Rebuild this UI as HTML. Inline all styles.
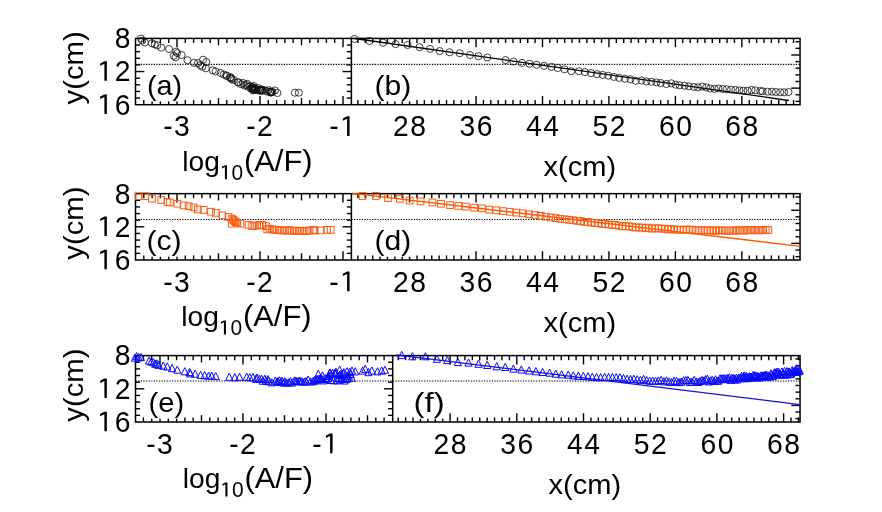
<!DOCTYPE html>
<html><head><meta charset="utf-8"><title>chart</title>
<style>html,body{margin:0;padding:0;background:#fff}svg{display:block}text{font-family:"Liberation Sans",sans-serif;fill:#000}</style></head>
<body>
<svg width="882" height="512" viewBox="0 0 882 512" style="will-change:transform">
<rect width="882" height="512" fill="#fff"/>
<line x1="135.50" y1="64.40" x2="800.05" y2="64.40" stroke="#000" stroke-width="1.1" stroke-dasharray="1.3 1.3"/>
<line x1="135.50" y1="219.55" x2="800.05" y2="219.55" stroke="#000" stroke-width="1.1" stroke-dasharray="1.3 1.3"/>
<line x1="135.50" y1="381.00" x2="800.05" y2="381.00" stroke="#000" stroke-width="1.1" stroke-dasharray="1.3 1.3"/>
<rect x="135.50" y="38.40" width="664.55" height="66.30" fill="none" stroke="#000" stroke-width="1.5"/>
<line x1="351.40" y1="38.40" x2="351.40" y2="104.70" stroke="#000" stroke-width="1.5" />
<line x1="135.50" y1="45.03" x2="140.10" y2="45.03" stroke="#000" stroke-width="1.4" />
<line x1="135.50" y1="51.66" x2="140.10" y2="51.66" stroke="#000" stroke-width="1.4" />
<line x1="135.50" y1="58.29" x2="140.10" y2="58.29" stroke="#000" stroke-width="1.4" />
<line x1="135.50" y1="64.92" x2="140.10" y2="64.92" stroke="#000" stroke-width="1.4" />
<line x1="135.50" y1="71.55" x2="144.30" y2="71.55" stroke="#000" stroke-width="1.4" />
<line x1="135.50" y1="78.18" x2="140.10" y2="78.18" stroke="#000" stroke-width="1.4" />
<line x1="135.50" y1="84.81" x2="140.10" y2="84.81" stroke="#000" stroke-width="1.4" />
<line x1="135.50" y1="91.44" x2="140.10" y2="91.44" stroke="#000" stroke-width="1.4" />
<line x1="135.50" y1="98.07" x2="140.10" y2="98.07" stroke="#000" stroke-width="1.4" />
<line x1="351.40" y1="45.03" x2="346.80" y2="45.03" stroke="#000" stroke-width="1.4" />
<line x1="351.40" y1="51.66" x2="346.80" y2="51.66" stroke="#000" stroke-width="1.4" />
<line x1="351.40" y1="58.29" x2="346.80" y2="58.29" stroke="#000" stroke-width="1.4" />
<line x1="351.40" y1="64.92" x2="346.80" y2="64.92" stroke="#000" stroke-width="1.4" />
<line x1="351.40" y1="71.55" x2="342.60" y2="71.55" stroke="#000" stroke-width="1.4" />
<line x1="351.40" y1="78.18" x2="346.80" y2="78.18" stroke="#000" stroke-width="1.4" />
<line x1="351.40" y1="84.81" x2="346.80" y2="84.81" stroke="#000" stroke-width="1.4" />
<line x1="351.40" y1="91.44" x2="346.80" y2="91.44" stroke="#000" stroke-width="1.4" />
<line x1="351.40" y1="98.07" x2="346.80" y2="98.07" stroke="#000" stroke-width="1.4" />
<line x1="800.05" y1="41.71" x2="795.45" y2="41.71" stroke="#000" stroke-width="1.4" />
<line x1="800.05" y1="48.34" x2="795.45" y2="48.34" stroke="#000" stroke-width="1.4" />
<line x1="800.05" y1="54.98" x2="791.25" y2="54.98" stroke="#000" stroke-width="1.4" />
<line x1="800.05" y1="61.61" x2="795.45" y2="61.61" stroke="#000" stroke-width="1.4" />
<line x1="800.05" y1="68.23" x2="795.45" y2="68.23" stroke="#000" stroke-width="1.4" />
<line x1="800.05" y1="74.87" x2="795.45" y2="74.87" stroke="#000" stroke-width="1.4" />
<line x1="800.05" y1="81.50" x2="795.45" y2="81.50" stroke="#000" stroke-width="1.4" />
<line x1="800.05" y1="88.12" x2="791.25" y2="88.12" stroke="#000" stroke-width="1.4" />
<line x1="800.05" y1="94.75" x2="795.45" y2="94.75" stroke="#000" stroke-width="1.4" />
<line x1="800.05" y1="101.39" x2="795.45" y2="101.39" stroke="#000" stroke-width="1.4" />
<line x1="143.80" y1="38.40" x2="143.80" y2="43.00" stroke="#000" stroke-width="1.4" />
<line x1="143.80" y1="104.70" x2="143.80" y2="100.10" stroke="#000" stroke-width="1.4" />
<line x1="152.10" y1="38.40" x2="152.10" y2="43.00" stroke="#000" stroke-width="1.4" />
<line x1="152.10" y1="104.70" x2="152.10" y2="100.10" stroke="#000" stroke-width="1.4" />
<line x1="160.40" y1="38.40" x2="160.40" y2="43.00" stroke="#000" stroke-width="1.4" />
<line x1="160.40" y1="104.70" x2="160.40" y2="100.10" stroke="#000" stroke-width="1.4" />
<line x1="168.70" y1="38.40" x2="168.70" y2="43.00" stroke="#000" stroke-width="1.4" />
<line x1="168.70" y1="104.70" x2="168.70" y2="100.10" stroke="#000" stroke-width="1.4" />
<line x1="177.00" y1="38.40" x2="177.00" y2="47.20" stroke="#000" stroke-width="1.4" />
<line x1="177.00" y1="104.70" x2="177.00" y2="95.90" stroke="#000" stroke-width="1.4" />
<line x1="185.30" y1="38.40" x2="185.30" y2="43.00" stroke="#000" stroke-width="1.4" />
<line x1="185.30" y1="104.70" x2="185.30" y2="100.10" stroke="#000" stroke-width="1.4" />
<line x1="193.60" y1="38.40" x2="193.60" y2="43.00" stroke="#000" stroke-width="1.4" />
<line x1="193.60" y1="104.70" x2="193.60" y2="100.10" stroke="#000" stroke-width="1.4" />
<line x1="201.90" y1="38.40" x2="201.90" y2="43.00" stroke="#000" stroke-width="1.4" />
<line x1="201.90" y1="104.70" x2="201.90" y2="100.10" stroke="#000" stroke-width="1.4" />
<line x1="210.20" y1="38.40" x2="210.20" y2="43.00" stroke="#000" stroke-width="1.4" />
<line x1="210.20" y1="104.70" x2="210.20" y2="100.10" stroke="#000" stroke-width="1.4" />
<line x1="218.50" y1="38.40" x2="218.50" y2="45.20" stroke="#000" stroke-width="1.4" />
<line x1="218.50" y1="104.70" x2="218.50" y2="97.90" stroke="#000" stroke-width="1.4" />
<line x1="226.80" y1="38.40" x2="226.80" y2="43.00" stroke="#000" stroke-width="1.4" />
<line x1="226.80" y1="104.70" x2="226.80" y2="100.10" stroke="#000" stroke-width="1.4" />
<line x1="235.10" y1="38.40" x2="235.10" y2="43.00" stroke="#000" stroke-width="1.4" />
<line x1="235.10" y1="104.70" x2="235.10" y2="100.10" stroke="#000" stroke-width="1.4" />
<line x1="243.40" y1="38.40" x2="243.40" y2="43.00" stroke="#000" stroke-width="1.4" />
<line x1="243.40" y1="104.70" x2="243.40" y2="100.10" stroke="#000" stroke-width="1.4" />
<line x1="251.70" y1="38.40" x2="251.70" y2="43.00" stroke="#000" stroke-width="1.4" />
<line x1="251.70" y1="104.70" x2="251.70" y2="100.10" stroke="#000" stroke-width="1.4" />
<line x1="260.00" y1="38.40" x2="260.00" y2="47.20" stroke="#000" stroke-width="1.4" />
<line x1="260.00" y1="104.70" x2="260.00" y2="95.90" stroke="#000" stroke-width="1.4" />
<line x1="268.30" y1="38.40" x2="268.30" y2="43.00" stroke="#000" stroke-width="1.4" />
<line x1="268.30" y1="104.70" x2="268.30" y2="100.10" stroke="#000" stroke-width="1.4" />
<line x1="276.60" y1="38.40" x2="276.60" y2="43.00" stroke="#000" stroke-width="1.4" />
<line x1="276.60" y1="104.70" x2="276.60" y2="100.10" stroke="#000" stroke-width="1.4" />
<line x1="284.90" y1="38.40" x2="284.90" y2="43.00" stroke="#000" stroke-width="1.4" />
<line x1="284.90" y1="104.70" x2="284.90" y2="100.10" stroke="#000" stroke-width="1.4" />
<line x1="293.20" y1="38.40" x2="293.20" y2="43.00" stroke="#000" stroke-width="1.4" />
<line x1="293.20" y1="104.70" x2="293.20" y2="100.10" stroke="#000" stroke-width="1.4" />
<line x1="301.50" y1="38.40" x2="301.50" y2="45.20" stroke="#000" stroke-width="1.4" />
<line x1="301.50" y1="104.70" x2="301.50" y2="97.90" stroke="#000" stroke-width="1.4" />
<line x1="309.80" y1="38.40" x2="309.80" y2="43.00" stroke="#000" stroke-width="1.4" />
<line x1="309.80" y1="104.70" x2="309.80" y2="100.10" stroke="#000" stroke-width="1.4" />
<line x1="318.10" y1="38.40" x2="318.10" y2="43.00" stroke="#000" stroke-width="1.4" />
<line x1="318.10" y1="104.70" x2="318.10" y2="100.10" stroke="#000" stroke-width="1.4" />
<line x1="326.40" y1="38.40" x2="326.40" y2="43.00" stroke="#000" stroke-width="1.4" />
<line x1="326.40" y1="104.70" x2="326.40" y2="100.10" stroke="#000" stroke-width="1.4" />
<line x1="334.70" y1="38.40" x2="334.70" y2="43.00" stroke="#000" stroke-width="1.4" />
<line x1="334.70" y1="104.70" x2="334.70" y2="100.10" stroke="#000" stroke-width="1.4" />
<line x1="343.00" y1="38.40" x2="343.00" y2="47.20" stroke="#000" stroke-width="1.4" />
<line x1="343.00" y1="104.70" x2="343.00" y2="95.90" stroke="#000" stroke-width="1.4" />
<line x1="357.92" y1="38.40" x2="357.92" y2="43.00" stroke="#000" stroke-width="1.4" />
<line x1="357.92" y1="104.70" x2="357.92" y2="100.10" stroke="#000" stroke-width="1.4" />
<line x1="365.30" y1="38.40" x2="365.30" y2="43.00" stroke="#000" stroke-width="1.4" />
<line x1="365.30" y1="104.70" x2="365.30" y2="100.10" stroke="#000" stroke-width="1.4" />
<line x1="372.68" y1="38.40" x2="372.68" y2="43.00" stroke="#000" stroke-width="1.4" />
<line x1="372.68" y1="104.70" x2="372.68" y2="100.10" stroke="#000" stroke-width="1.4" />
<line x1="380.07" y1="38.40" x2="380.07" y2="43.00" stroke="#000" stroke-width="1.4" />
<line x1="380.07" y1="104.70" x2="380.07" y2="100.10" stroke="#000" stroke-width="1.4" />
<line x1="387.45" y1="38.40" x2="387.45" y2="43.00" stroke="#000" stroke-width="1.4" />
<line x1="387.45" y1="104.70" x2="387.45" y2="100.10" stroke="#000" stroke-width="1.4" />
<line x1="394.83" y1="38.40" x2="394.83" y2="43.00" stroke="#000" stroke-width="1.4" />
<line x1="394.83" y1="104.70" x2="394.83" y2="100.10" stroke="#000" stroke-width="1.4" />
<line x1="402.22" y1="38.40" x2="402.22" y2="43.00" stroke="#000" stroke-width="1.4" />
<line x1="402.22" y1="104.70" x2="402.22" y2="100.10" stroke="#000" stroke-width="1.4" />
<line x1="409.60" y1="38.40" x2="409.60" y2="47.20" stroke="#000" stroke-width="1.4" />
<line x1="409.60" y1="104.70" x2="409.60" y2="95.90" stroke="#000" stroke-width="1.4" />
<line x1="416.98" y1="38.40" x2="416.98" y2="43.00" stroke="#000" stroke-width="1.4" />
<line x1="416.98" y1="104.70" x2="416.98" y2="100.10" stroke="#000" stroke-width="1.4" />
<line x1="424.37" y1="38.40" x2="424.37" y2="43.00" stroke="#000" stroke-width="1.4" />
<line x1="424.37" y1="104.70" x2="424.37" y2="100.10" stroke="#000" stroke-width="1.4" />
<line x1="431.75" y1="38.40" x2="431.75" y2="43.00" stroke="#000" stroke-width="1.4" />
<line x1="431.75" y1="104.70" x2="431.75" y2="100.10" stroke="#000" stroke-width="1.4" />
<line x1="439.13" y1="38.40" x2="439.13" y2="43.00" stroke="#000" stroke-width="1.4" />
<line x1="439.13" y1="104.70" x2="439.13" y2="100.10" stroke="#000" stroke-width="1.4" />
<line x1="446.52" y1="38.40" x2="446.52" y2="43.00" stroke="#000" stroke-width="1.4" />
<line x1="446.52" y1="104.70" x2="446.52" y2="100.10" stroke="#000" stroke-width="1.4" />
<line x1="453.90" y1="38.40" x2="453.90" y2="43.00" stroke="#000" stroke-width="1.4" />
<line x1="453.90" y1="104.70" x2="453.90" y2="100.10" stroke="#000" stroke-width="1.4" />
<line x1="461.28" y1="38.40" x2="461.28" y2="43.00" stroke="#000" stroke-width="1.4" />
<line x1="461.28" y1="104.70" x2="461.28" y2="100.10" stroke="#000" stroke-width="1.4" />
<line x1="468.67" y1="38.40" x2="468.67" y2="43.00" stroke="#000" stroke-width="1.4" />
<line x1="468.67" y1="104.70" x2="468.67" y2="100.10" stroke="#000" stroke-width="1.4" />
<line x1="476.05" y1="38.40" x2="476.05" y2="47.20" stroke="#000" stroke-width="1.4" />
<line x1="476.05" y1="104.70" x2="476.05" y2="95.90" stroke="#000" stroke-width="1.4" />
<line x1="483.43" y1="38.40" x2="483.43" y2="43.00" stroke="#000" stroke-width="1.4" />
<line x1="483.43" y1="104.70" x2="483.43" y2="100.10" stroke="#000" stroke-width="1.4" />
<line x1="490.82" y1="38.40" x2="490.82" y2="43.00" stroke="#000" stroke-width="1.4" />
<line x1="490.82" y1="104.70" x2="490.82" y2="100.10" stroke="#000" stroke-width="1.4" />
<line x1="498.20" y1="38.40" x2="498.20" y2="43.00" stroke="#000" stroke-width="1.4" />
<line x1="498.20" y1="104.70" x2="498.20" y2="100.10" stroke="#000" stroke-width="1.4" />
<line x1="505.58" y1="38.40" x2="505.58" y2="43.00" stroke="#000" stroke-width="1.4" />
<line x1="505.58" y1="104.70" x2="505.58" y2="100.10" stroke="#000" stroke-width="1.4" />
<line x1="512.97" y1="38.40" x2="512.97" y2="43.00" stroke="#000" stroke-width="1.4" />
<line x1="512.97" y1="104.70" x2="512.97" y2="100.10" stroke="#000" stroke-width="1.4" />
<line x1="520.35" y1="38.40" x2="520.35" y2="43.00" stroke="#000" stroke-width="1.4" />
<line x1="520.35" y1="104.70" x2="520.35" y2="100.10" stroke="#000" stroke-width="1.4" />
<line x1="527.73" y1="38.40" x2="527.73" y2="43.00" stroke="#000" stroke-width="1.4" />
<line x1="527.73" y1="104.70" x2="527.73" y2="100.10" stroke="#000" stroke-width="1.4" />
<line x1="535.12" y1="38.40" x2="535.12" y2="43.00" stroke="#000" stroke-width="1.4" />
<line x1="535.12" y1="104.70" x2="535.12" y2="100.10" stroke="#000" stroke-width="1.4" />
<line x1="542.50" y1="38.40" x2="542.50" y2="47.20" stroke="#000" stroke-width="1.4" />
<line x1="542.50" y1="104.70" x2="542.50" y2="95.90" stroke="#000" stroke-width="1.4" />
<line x1="549.88" y1="38.40" x2="549.88" y2="43.00" stroke="#000" stroke-width="1.4" />
<line x1="549.88" y1="104.70" x2="549.88" y2="100.10" stroke="#000" stroke-width="1.4" />
<line x1="557.27" y1="38.40" x2="557.27" y2="43.00" stroke="#000" stroke-width="1.4" />
<line x1="557.27" y1="104.70" x2="557.27" y2="100.10" stroke="#000" stroke-width="1.4" />
<line x1="564.65" y1="38.40" x2="564.65" y2="43.00" stroke="#000" stroke-width="1.4" />
<line x1="564.65" y1="104.70" x2="564.65" y2="100.10" stroke="#000" stroke-width="1.4" />
<line x1="572.03" y1="38.40" x2="572.03" y2="43.00" stroke="#000" stroke-width="1.4" />
<line x1="572.03" y1="104.70" x2="572.03" y2="100.10" stroke="#000" stroke-width="1.4" />
<line x1="579.42" y1="38.40" x2="579.42" y2="43.00" stroke="#000" stroke-width="1.4" />
<line x1="579.42" y1="104.70" x2="579.42" y2="100.10" stroke="#000" stroke-width="1.4" />
<line x1="586.80" y1="38.40" x2="586.80" y2="43.00" stroke="#000" stroke-width="1.4" />
<line x1="586.80" y1="104.70" x2="586.80" y2="100.10" stroke="#000" stroke-width="1.4" />
<line x1="594.18" y1="38.40" x2="594.18" y2="43.00" stroke="#000" stroke-width="1.4" />
<line x1="594.18" y1="104.70" x2="594.18" y2="100.10" stroke="#000" stroke-width="1.4" />
<line x1="601.57" y1="38.40" x2="601.57" y2="43.00" stroke="#000" stroke-width="1.4" />
<line x1="601.57" y1="104.70" x2="601.57" y2="100.10" stroke="#000" stroke-width="1.4" />
<line x1="608.95" y1="38.40" x2="608.95" y2="47.20" stroke="#000" stroke-width="1.4" />
<line x1="608.95" y1="104.70" x2="608.95" y2="95.90" stroke="#000" stroke-width="1.4" />
<line x1="616.33" y1="38.40" x2="616.33" y2="43.00" stroke="#000" stroke-width="1.4" />
<line x1="616.33" y1="104.70" x2="616.33" y2="100.10" stroke="#000" stroke-width="1.4" />
<line x1="623.72" y1="38.40" x2="623.72" y2="43.00" stroke="#000" stroke-width="1.4" />
<line x1="623.72" y1="104.70" x2="623.72" y2="100.10" stroke="#000" stroke-width="1.4" />
<line x1="631.10" y1="38.40" x2="631.10" y2="43.00" stroke="#000" stroke-width="1.4" />
<line x1="631.10" y1="104.70" x2="631.10" y2="100.10" stroke="#000" stroke-width="1.4" />
<line x1="638.48" y1="38.40" x2="638.48" y2="43.00" stroke="#000" stroke-width="1.4" />
<line x1="638.48" y1="104.70" x2="638.48" y2="100.10" stroke="#000" stroke-width="1.4" />
<line x1="645.87" y1="38.40" x2="645.87" y2="43.00" stroke="#000" stroke-width="1.4" />
<line x1="645.87" y1="104.70" x2="645.87" y2="100.10" stroke="#000" stroke-width="1.4" />
<line x1="653.25" y1="38.40" x2="653.25" y2="43.00" stroke="#000" stroke-width="1.4" />
<line x1="653.25" y1="104.70" x2="653.25" y2="100.10" stroke="#000" stroke-width="1.4" />
<line x1="660.63" y1="38.40" x2="660.63" y2="43.00" stroke="#000" stroke-width="1.4" />
<line x1="660.63" y1="104.70" x2="660.63" y2="100.10" stroke="#000" stroke-width="1.4" />
<line x1="668.02" y1="38.40" x2="668.02" y2="43.00" stroke="#000" stroke-width="1.4" />
<line x1="668.02" y1="104.70" x2="668.02" y2="100.10" stroke="#000" stroke-width="1.4" />
<line x1="675.40" y1="38.40" x2="675.40" y2="47.20" stroke="#000" stroke-width="1.4" />
<line x1="675.40" y1="104.70" x2="675.40" y2="95.90" stroke="#000" stroke-width="1.4" />
<line x1="682.78" y1="38.40" x2="682.78" y2="43.00" stroke="#000" stroke-width="1.4" />
<line x1="682.78" y1="104.70" x2="682.78" y2="100.10" stroke="#000" stroke-width="1.4" />
<line x1="690.17" y1="38.40" x2="690.17" y2="43.00" stroke="#000" stroke-width="1.4" />
<line x1="690.17" y1="104.70" x2="690.17" y2="100.10" stroke="#000" stroke-width="1.4" />
<line x1="697.55" y1="38.40" x2="697.55" y2="43.00" stroke="#000" stroke-width="1.4" />
<line x1="697.55" y1="104.70" x2="697.55" y2="100.10" stroke="#000" stroke-width="1.4" />
<line x1="704.93" y1="38.40" x2="704.93" y2="43.00" stroke="#000" stroke-width="1.4" />
<line x1="704.93" y1="104.70" x2="704.93" y2="100.10" stroke="#000" stroke-width="1.4" />
<line x1="712.32" y1="38.40" x2="712.32" y2="43.00" stroke="#000" stroke-width="1.4" />
<line x1="712.32" y1="104.70" x2="712.32" y2="100.10" stroke="#000" stroke-width="1.4" />
<line x1="719.70" y1="38.40" x2="719.70" y2="43.00" stroke="#000" stroke-width="1.4" />
<line x1="719.70" y1="104.70" x2="719.70" y2="100.10" stroke="#000" stroke-width="1.4" />
<line x1="727.08" y1="38.40" x2="727.08" y2="43.00" stroke="#000" stroke-width="1.4" />
<line x1="727.08" y1="104.70" x2="727.08" y2="100.10" stroke="#000" stroke-width="1.4" />
<line x1="734.47" y1="38.40" x2="734.47" y2="43.00" stroke="#000" stroke-width="1.4" />
<line x1="734.47" y1="104.70" x2="734.47" y2="100.10" stroke="#000" stroke-width="1.4" />
<line x1="741.85" y1="38.40" x2="741.85" y2="47.20" stroke="#000" stroke-width="1.4" />
<line x1="741.85" y1="104.70" x2="741.85" y2="95.90" stroke="#000" stroke-width="1.4" />
<line x1="749.23" y1="38.40" x2="749.23" y2="43.00" stroke="#000" stroke-width="1.4" />
<line x1="749.23" y1="104.70" x2="749.23" y2="100.10" stroke="#000" stroke-width="1.4" />
<line x1="756.62" y1="38.40" x2="756.62" y2="43.00" stroke="#000" stroke-width="1.4" />
<line x1="756.62" y1="104.70" x2="756.62" y2="100.10" stroke="#000" stroke-width="1.4" />
<line x1="764.00" y1="38.40" x2="764.00" y2="43.00" stroke="#000" stroke-width="1.4" />
<line x1="764.00" y1="104.70" x2="764.00" y2="100.10" stroke="#000" stroke-width="1.4" />
<line x1="771.38" y1="38.40" x2="771.38" y2="43.00" stroke="#000" stroke-width="1.4" />
<line x1="771.38" y1="104.70" x2="771.38" y2="100.10" stroke="#000" stroke-width="1.4" />
<line x1="778.77" y1="38.40" x2="778.77" y2="43.00" stroke="#000" stroke-width="1.4" />
<line x1="778.77" y1="104.70" x2="778.77" y2="100.10" stroke="#000" stroke-width="1.4" />
<line x1="786.15" y1="38.40" x2="786.15" y2="43.00" stroke="#000" stroke-width="1.4" />
<line x1="786.15" y1="104.70" x2="786.15" y2="100.10" stroke="#000" stroke-width="1.4" />
<line x1="793.53" y1="38.40" x2="793.53" y2="43.00" stroke="#000" stroke-width="1.4" />
<line x1="793.53" y1="104.70" x2="793.53" y2="100.10" stroke="#000" stroke-width="1.4" />
<rect x="135.50" y="193.65" width="664.55" height="66.35" fill="none" stroke="#000" stroke-width="1.5"/>
<line x1="351.40" y1="193.65" x2="351.40" y2="260.00" stroke="#000" stroke-width="1.5" />
<line x1="135.50" y1="200.28" x2="140.10" y2="200.28" stroke="#000" stroke-width="1.4" />
<line x1="135.50" y1="206.92" x2="140.10" y2="206.92" stroke="#000" stroke-width="1.4" />
<line x1="135.50" y1="213.56" x2="140.10" y2="213.56" stroke="#000" stroke-width="1.4" />
<line x1="135.50" y1="220.19" x2="140.10" y2="220.19" stroke="#000" stroke-width="1.4" />
<line x1="135.50" y1="226.82" x2="144.30" y2="226.82" stroke="#000" stroke-width="1.4" />
<line x1="135.50" y1="233.46" x2="140.10" y2="233.46" stroke="#000" stroke-width="1.4" />
<line x1="135.50" y1="240.09" x2="140.10" y2="240.09" stroke="#000" stroke-width="1.4" />
<line x1="135.50" y1="246.73" x2="140.10" y2="246.73" stroke="#000" stroke-width="1.4" />
<line x1="135.50" y1="253.37" x2="140.10" y2="253.37" stroke="#000" stroke-width="1.4" />
<line x1="351.40" y1="200.28" x2="346.80" y2="200.28" stroke="#000" stroke-width="1.4" />
<line x1="351.40" y1="206.92" x2="346.80" y2="206.92" stroke="#000" stroke-width="1.4" />
<line x1="351.40" y1="213.56" x2="346.80" y2="213.56" stroke="#000" stroke-width="1.4" />
<line x1="351.40" y1="220.19" x2="346.80" y2="220.19" stroke="#000" stroke-width="1.4" />
<line x1="351.40" y1="226.82" x2="342.60" y2="226.82" stroke="#000" stroke-width="1.4" />
<line x1="351.40" y1="233.46" x2="346.80" y2="233.46" stroke="#000" stroke-width="1.4" />
<line x1="351.40" y1="240.09" x2="346.80" y2="240.09" stroke="#000" stroke-width="1.4" />
<line x1="351.40" y1="246.73" x2="346.80" y2="246.73" stroke="#000" stroke-width="1.4" />
<line x1="351.40" y1="253.37" x2="346.80" y2="253.37" stroke="#000" stroke-width="1.4" />
<line x1="800.05" y1="196.97" x2="795.45" y2="196.97" stroke="#000" stroke-width="1.4" />
<line x1="800.05" y1="203.60" x2="795.45" y2="203.60" stroke="#000" stroke-width="1.4" />
<line x1="800.05" y1="210.24" x2="791.25" y2="210.24" stroke="#000" stroke-width="1.4" />
<line x1="800.05" y1="216.87" x2="795.45" y2="216.87" stroke="#000" stroke-width="1.4" />
<line x1="800.05" y1="223.51" x2="795.45" y2="223.51" stroke="#000" stroke-width="1.4" />
<line x1="800.05" y1="230.14" x2="795.45" y2="230.14" stroke="#000" stroke-width="1.4" />
<line x1="800.05" y1="236.78" x2="795.45" y2="236.78" stroke="#000" stroke-width="1.4" />
<line x1="800.05" y1="243.41" x2="791.25" y2="243.41" stroke="#000" stroke-width="1.4" />
<line x1="800.05" y1="250.05" x2="795.45" y2="250.05" stroke="#000" stroke-width="1.4" />
<line x1="800.05" y1="256.68" x2="795.45" y2="256.68" stroke="#000" stroke-width="1.4" />
<line x1="143.80" y1="193.65" x2="143.80" y2="198.25" stroke="#000" stroke-width="1.4" />
<line x1="143.80" y1="260.00" x2="143.80" y2="255.40" stroke="#000" stroke-width="1.4" />
<line x1="152.10" y1="193.65" x2="152.10" y2="198.25" stroke="#000" stroke-width="1.4" />
<line x1="152.10" y1="260.00" x2="152.10" y2="255.40" stroke="#000" stroke-width="1.4" />
<line x1="160.40" y1="193.65" x2="160.40" y2="198.25" stroke="#000" stroke-width="1.4" />
<line x1="160.40" y1="260.00" x2="160.40" y2="255.40" stroke="#000" stroke-width="1.4" />
<line x1="168.70" y1="193.65" x2="168.70" y2="198.25" stroke="#000" stroke-width="1.4" />
<line x1="168.70" y1="260.00" x2="168.70" y2="255.40" stroke="#000" stroke-width="1.4" />
<line x1="177.00" y1="193.65" x2="177.00" y2="202.45" stroke="#000" stroke-width="1.4" />
<line x1="177.00" y1="260.00" x2="177.00" y2="251.20" stroke="#000" stroke-width="1.4" />
<line x1="185.30" y1="193.65" x2="185.30" y2="198.25" stroke="#000" stroke-width="1.4" />
<line x1="185.30" y1="260.00" x2="185.30" y2="255.40" stroke="#000" stroke-width="1.4" />
<line x1="193.60" y1="193.65" x2="193.60" y2="198.25" stroke="#000" stroke-width="1.4" />
<line x1="193.60" y1="260.00" x2="193.60" y2="255.40" stroke="#000" stroke-width="1.4" />
<line x1="201.90" y1="193.65" x2="201.90" y2="198.25" stroke="#000" stroke-width="1.4" />
<line x1="201.90" y1="260.00" x2="201.90" y2="255.40" stroke="#000" stroke-width="1.4" />
<line x1="210.20" y1="193.65" x2="210.20" y2="198.25" stroke="#000" stroke-width="1.4" />
<line x1="210.20" y1="260.00" x2="210.20" y2="255.40" stroke="#000" stroke-width="1.4" />
<line x1="218.50" y1="193.65" x2="218.50" y2="200.45" stroke="#000" stroke-width="1.4" />
<line x1="218.50" y1="260.00" x2="218.50" y2="253.20" stroke="#000" stroke-width="1.4" />
<line x1="226.80" y1="193.65" x2="226.80" y2="198.25" stroke="#000" stroke-width="1.4" />
<line x1="226.80" y1="260.00" x2="226.80" y2="255.40" stroke="#000" stroke-width="1.4" />
<line x1="235.10" y1="193.65" x2="235.10" y2="198.25" stroke="#000" stroke-width="1.4" />
<line x1="235.10" y1="260.00" x2="235.10" y2="255.40" stroke="#000" stroke-width="1.4" />
<line x1="243.40" y1="193.65" x2="243.40" y2="198.25" stroke="#000" stroke-width="1.4" />
<line x1="243.40" y1="260.00" x2="243.40" y2="255.40" stroke="#000" stroke-width="1.4" />
<line x1="251.70" y1="193.65" x2="251.70" y2="198.25" stroke="#000" stroke-width="1.4" />
<line x1="251.70" y1="260.00" x2="251.70" y2="255.40" stroke="#000" stroke-width="1.4" />
<line x1="260.00" y1="193.65" x2="260.00" y2="202.45" stroke="#000" stroke-width="1.4" />
<line x1="260.00" y1="260.00" x2="260.00" y2="251.20" stroke="#000" stroke-width="1.4" />
<line x1="268.30" y1="193.65" x2="268.30" y2="198.25" stroke="#000" stroke-width="1.4" />
<line x1="268.30" y1="260.00" x2="268.30" y2="255.40" stroke="#000" stroke-width="1.4" />
<line x1="276.60" y1="193.65" x2="276.60" y2="198.25" stroke="#000" stroke-width="1.4" />
<line x1="276.60" y1="260.00" x2="276.60" y2="255.40" stroke="#000" stroke-width="1.4" />
<line x1="284.90" y1="193.65" x2="284.90" y2="198.25" stroke="#000" stroke-width="1.4" />
<line x1="284.90" y1="260.00" x2="284.90" y2="255.40" stroke="#000" stroke-width="1.4" />
<line x1="293.20" y1="193.65" x2="293.20" y2="198.25" stroke="#000" stroke-width="1.4" />
<line x1="293.20" y1="260.00" x2="293.20" y2="255.40" stroke="#000" stroke-width="1.4" />
<line x1="301.50" y1="193.65" x2="301.50" y2="200.45" stroke="#000" stroke-width="1.4" />
<line x1="301.50" y1="260.00" x2="301.50" y2="253.20" stroke="#000" stroke-width="1.4" />
<line x1="309.80" y1="193.65" x2="309.80" y2="198.25" stroke="#000" stroke-width="1.4" />
<line x1="309.80" y1="260.00" x2="309.80" y2="255.40" stroke="#000" stroke-width="1.4" />
<line x1="318.10" y1="193.65" x2="318.10" y2="198.25" stroke="#000" stroke-width="1.4" />
<line x1="318.10" y1="260.00" x2="318.10" y2="255.40" stroke="#000" stroke-width="1.4" />
<line x1="326.40" y1="193.65" x2="326.40" y2="198.25" stroke="#000" stroke-width="1.4" />
<line x1="326.40" y1="260.00" x2="326.40" y2="255.40" stroke="#000" stroke-width="1.4" />
<line x1="334.70" y1="193.65" x2="334.70" y2="198.25" stroke="#000" stroke-width="1.4" />
<line x1="334.70" y1="260.00" x2="334.70" y2="255.40" stroke="#000" stroke-width="1.4" />
<line x1="343.00" y1="193.65" x2="343.00" y2="202.45" stroke="#000" stroke-width="1.4" />
<line x1="343.00" y1="260.00" x2="343.00" y2="251.20" stroke="#000" stroke-width="1.4" />
<line x1="357.92" y1="193.65" x2="357.92" y2="198.25" stroke="#000" stroke-width="1.4" />
<line x1="357.92" y1="260.00" x2="357.92" y2="255.40" stroke="#000" stroke-width="1.4" />
<line x1="365.30" y1="193.65" x2="365.30" y2="198.25" stroke="#000" stroke-width="1.4" />
<line x1="365.30" y1="260.00" x2="365.30" y2="255.40" stroke="#000" stroke-width="1.4" />
<line x1="372.68" y1="193.65" x2="372.68" y2="198.25" stroke="#000" stroke-width="1.4" />
<line x1="372.68" y1="260.00" x2="372.68" y2="255.40" stroke="#000" stroke-width="1.4" />
<line x1="380.07" y1="193.65" x2="380.07" y2="198.25" stroke="#000" stroke-width="1.4" />
<line x1="380.07" y1="260.00" x2="380.07" y2="255.40" stroke="#000" stroke-width="1.4" />
<line x1="387.45" y1="193.65" x2="387.45" y2="198.25" stroke="#000" stroke-width="1.4" />
<line x1="387.45" y1="260.00" x2="387.45" y2="255.40" stroke="#000" stroke-width="1.4" />
<line x1="394.83" y1="193.65" x2="394.83" y2="198.25" stroke="#000" stroke-width="1.4" />
<line x1="394.83" y1="260.00" x2="394.83" y2="255.40" stroke="#000" stroke-width="1.4" />
<line x1="402.22" y1="193.65" x2="402.22" y2="198.25" stroke="#000" stroke-width="1.4" />
<line x1="402.22" y1="260.00" x2="402.22" y2="255.40" stroke="#000" stroke-width="1.4" />
<line x1="409.60" y1="193.65" x2="409.60" y2="202.45" stroke="#000" stroke-width="1.4" />
<line x1="409.60" y1="260.00" x2="409.60" y2="251.20" stroke="#000" stroke-width="1.4" />
<line x1="416.98" y1="193.65" x2="416.98" y2="198.25" stroke="#000" stroke-width="1.4" />
<line x1="416.98" y1="260.00" x2="416.98" y2="255.40" stroke="#000" stroke-width="1.4" />
<line x1="424.37" y1="193.65" x2="424.37" y2="198.25" stroke="#000" stroke-width="1.4" />
<line x1="424.37" y1="260.00" x2="424.37" y2="255.40" stroke="#000" stroke-width="1.4" />
<line x1="431.75" y1="193.65" x2="431.75" y2="198.25" stroke="#000" stroke-width="1.4" />
<line x1="431.75" y1="260.00" x2="431.75" y2="255.40" stroke="#000" stroke-width="1.4" />
<line x1="439.13" y1="193.65" x2="439.13" y2="198.25" stroke="#000" stroke-width="1.4" />
<line x1="439.13" y1="260.00" x2="439.13" y2="255.40" stroke="#000" stroke-width="1.4" />
<line x1="446.52" y1="193.65" x2="446.52" y2="198.25" stroke="#000" stroke-width="1.4" />
<line x1="446.52" y1="260.00" x2="446.52" y2="255.40" stroke="#000" stroke-width="1.4" />
<line x1="453.90" y1="193.65" x2="453.90" y2="198.25" stroke="#000" stroke-width="1.4" />
<line x1="453.90" y1="260.00" x2="453.90" y2="255.40" stroke="#000" stroke-width="1.4" />
<line x1="461.28" y1="193.65" x2="461.28" y2="198.25" stroke="#000" stroke-width="1.4" />
<line x1="461.28" y1="260.00" x2="461.28" y2="255.40" stroke="#000" stroke-width="1.4" />
<line x1="468.67" y1="193.65" x2="468.67" y2="198.25" stroke="#000" stroke-width="1.4" />
<line x1="468.67" y1="260.00" x2="468.67" y2="255.40" stroke="#000" stroke-width="1.4" />
<line x1="476.05" y1="193.65" x2="476.05" y2="202.45" stroke="#000" stroke-width="1.4" />
<line x1="476.05" y1="260.00" x2="476.05" y2="251.20" stroke="#000" stroke-width="1.4" />
<line x1="483.43" y1="193.65" x2="483.43" y2="198.25" stroke="#000" stroke-width="1.4" />
<line x1="483.43" y1="260.00" x2="483.43" y2="255.40" stroke="#000" stroke-width="1.4" />
<line x1="490.82" y1="193.65" x2="490.82" y2="198.25" stroke="#000" stroke-width="1.4" />
<line x1="490.82" y1="260.00" x2="490.82" y2="255.40" stroke="#000" stroke-width="1.4" />
<line x1="498.20" y1="193.65" x2="498.20" y2="198.25" stroke="#000" stroke-width="1.4" />
<line x1="498.20" y1="260.00" x2="498.20" y2="255.40" stroke="#000" stroke-width="1.4" />
<line x1="505.58" y1="193.65" x2="505.58" y2="198.25" stroke="#000" stroke-width="1.4" />
<line x1="505.58" y1="260.00" x2="505.58" y2="255.40" stroke="#000" stroke-width="1.4" />
<line x1="512.97" y1="193.65" x2="512.97" y2="198.25" stroke="#000" stroke-width="1.4" />
<line x1="512.97" y1="260.00" x2="512.97" y2="255.40" stroke="#000" stroke-width="1.4" />
<line x1="520.35" y1="193.65" x2="520.35" y2="198.25" stroke="#000" stroke-width="1.4" />
<line x1="520.35" y1="260.00" x2="520.35" y2="255.40" stroke="#000" stroke-width="1.4" />
<line x1="527.73" y1="193.65" x2="527.73" y2="198.25" stroke="#000" stroke-width="1.4" />
<line x1="527.73" y1="260.00" x2="527.73" y2="255.40" stroke="#000" stroke-width="1.4" />
<line x1="535.12" y1="193.65" x2="535.12" y2="198.25" stroke="#000" stroke-width="1.4" />
<line x1="535.12" y1="260.00" x2="535.12" y2="255.40" stroke="#000" stroke-width="1.4" />
<line x1="542.50" y1="193.65" x2="542.50" y2="202.45" stroke="#000" stroke-width="1.4" />
<line x1="542.50" y1="260.00" x2="542.50" y2="251.20" stroke="#000" stroke-width="1.4" />
<line x1="549.88" y1="193.65" x2="549.88" y2="198.25" stroke="#000" stroke-width="1.4" />
<line x1="549.88" y1="260.00" x2="549.88" y2="255.40" stroke="#000" stroke-width="1.4" />
<line x1="557.27" y1="193.65" x2="557.27" y2="198.25" stroke="#000" stroke-width="1.4" />
<line x1="557.27" y1="260.00" x2="557.27" y2="255.40" stroke="#000" stroke-width="1.4" />
<line x1="564.65" y1="193.65" x2="564.65" y2="198.25" stroke="#000" stroke-width="1.4" />
<line x1="564.65" y1="260.00" x2="564.65" y2="255.40" stroke="#000" stroke-width="1.4" />
<line x1="572.03" y1="193.65" x2="572.03" y2="198.25" stroke="#000" stroke-width="1.4" />
<line x1="572.03" y1="260.00" x2="572.03" y2="255.40" stroke="#000" stroke-width="1.4" />
<line x1="579.42" y1="193.65" x2="579.42" y2="198.25" stroke="#000" stroke-width="1.4" />
<line x1="579.42" y1="260.00" x2="579.42" y2="255.40" stroke="#000" stroke-width="1.4" />
<line x1="586.80" y1="193.65" x2="586.80" y2="198.25" stroke="#000" stroke-width="1.4" />
<line x1="586.80" y1="260.00" x2="586.80" y2="255.40" stroke="#000" stroke-width="1.4" />
<line x1="594.18" y1="193.65" x2="594.18" y2="198.25" stroke="#000" stroke-width="1.4" />
<line x1="594.18" y1="260.00" x2="594.18" y2="255.40" stroke="#000" stroke-width="1.4" />
<line x1="601.57" y1="193.65" x2="601.57" y2="198.25" stroke="#000" stroke-width="1.4" />
<line x1="601.57" y1="260.00" x2="601.57" y2="255.40" stroke="#000" stroke-width="1.4" />
<line x1="608.95" y1="193.65" x2="608.95" y2="202.45" stroke="#000" stroke-width="1.4" />
<line x1="608.95" y1="260.00" x2="608.95" y2="251.20" stroke="#000" stroke-width="1.4" />
<line x1="616.33" y1="193.65" x2="616.33" y2="198.25" stroke="#000" stroke-width="1.4" />
<line x1="616.33" y1="260.00" x2="616.33" y2="255.40" stroke="#000" stroke-width="1.4" />
<line x1="623.72" y1="193.65" x2="623.72" y2="198.25" stroke="#000" stroke-width="1.4" />
<line x1="623.72" y1="260.00" x2="623.72" y2="255.40" stroke="#000" stroke-width="1.4" />
<line x1="631.10" y1="193.65" x2="631.10" y2="198.25" stroke="#000" stroke-width="1.4" />
<line x1="631.10" y1="260.00" x2="631.10" y2="255.40" stroke="#000" stroke-width="1.4" />
<line x1="638.48" y1="193.65" x2="638.48" y2="198.25" stroke="#000" stroke-width="1.4" />
<line x1="638.48" y1="260.00" x2="638.48" y2="255.40" stroke="#000" stroke-width="1.4" />
<line x1="645.87" y1="193.65" x2="645.87" y2="198.25" stroke="#000" stroke-width="1.4" />
<line x1="645.87" y1="260.00" x2="645.87" y2="255.40" stroke="#000" stroke-width="1.4" />
<line x1="653.25" y1="193.65" x2="653.25" y2="198.25" stroke="#000" stroke-width="1.4" />
<line x1="653.25" y1="260.00" x2="653.25" y2="255.40" stroke="#000" stroke-width="1.4" />
<line x1="660.63" y1="193.65" x2="660.63" y2="198.25" stroke="#000" stroke-width="1.4" />
<line x1="660.63" y1="260.00" x2="660.63" y2="255.40" stroke="#000" stroke-width="1.4" />
<line x1="668.02" y1="193.65" x2="668.02" y2="198.25" stroke="#000" stroke-width="1.4" />
<line x1="668.02" y1="260.00" x2="668.02" y2="255.40" stroke="#000" stroke-width="1.4" />
<line x1="675.40" y1="193.65" x2="675.40" y2="202.45" stroke="#000" stroke-width="1.4" />
<line x1="675.40" y1="260.00" x2="675.40" y2="251.20" stroke="#000" stroke-width="1.4" />
<line x1="682.78" y1="193.65" x2="682.78" y2="198.25" stroke="#000" stroke-width="1.4" />
<line x1="682.78" y1="260.00" x2="682.78" y2="255.40" stroke="#000" stroke-width="1.4" />
<line x1="690.17" y1="193.65" x2="690.17" y2="198.25" stroke="#000" stroke-width="1.4" />
<line x1="690.17" y1="260.00" x2="690.17" y2="255.40" stroke="#000" stroke-width="1.4" />
<line x1="697.55" y1="193.65" x2="697.55" y2="198.25" stroke="#000" stroke-width="1.4" />
<line x1="697.55" y1="260.00" x2="697.55" y2="255.40" stroke="#000" stroke-width="1.4" />
<line x1="704.93" y1="193.65" x2="704.93" y2="198.25" stroke="#000" stroke-width="1.4" />
<line x1="704.93" y1="260.00" x2="704.93" y2="255.40" stroke="#000" stroke-width="1.4" />
<line x1="712.32" y1="193.65" x2="712.32" y2="198.25" stroke="#000" stroke-width="1.4" />
<line x1="712.32" y1="260.00" x2="712.32" y2="255.40" stroke="#000" stroke-width="1.4" />
<line x1="719.70" y1="193.65" x2="719.70" y2="198.25" stroke="#000" stroke-width="1.4" />
<line x1="719.70" y1="260.00" x2="719.70" y2="255.40" stroke="#000" stroke-width="1.4" />
<line x1="727.08" y1="193.65" x2="727.08" y2="198.25" stroke="#000" stroke-width="1.4" />
<line x1="727.08" y1="260.00" x2="727.08" y2="255.40" stroke="#000" stroke-width="1.4" />
<line x1="734.47" y1="193.65" x2="734.47" y2="198.25" stroke="#000" stroke-width="1.4" />
<line x1="734.47" y1="260.00" x2="734.47" y2="255.40" stroke="#000" stroke-width="1.4" />
<line x1="741.85" y1="193.65" x2="741.85" y2="202.45" stroke="#000" stroke-width="1.4" />
<line x1="741.85" y1="260.00" x2="741.85" y2="251.20" stroke="#000" stroke-width="1.4" />
<line x1="749.23" y1="193.65" x2="749.23" y2="198.25" stroke="#000" stroke-width="1.4" />
<line x1="749.23" y1="260.00" x2="749.23" y2="255.40" stroke="#000" stroke-width="1.4" />
<line x1="756.62" y1="193.65" x2="756.62" y2="198.25" stroke="#000" stroke-width="1.4" />
<line x1="756.62" y1="260.00" x2="756.62" y2="255.40" stroke="#000" stroke-width="1.4" />
<line x1="764.00" y1="193.65" x2="764.00" y2="198.25" stroke="#000" stroke-width="1.4" />
<line x1="764.00" y1="260.00" x2="764.00" y2="255.40" stroke="#000" stroke-width="1.4" />
<line x1="771.38" y1="193.65" x2="771.38" y2="198.25" stroke="#000" stroke-width="1.4" />
<line x1="771.38" y1="260.00" x2="771.38" y2="255.40" stroke="#000" stroke-width="1.4" />
<line x1="778.77" y1="193.65" x2="778.77" y2="198.25" stroke="#000" stroke-width="1.4" />
<line x1="778.77" y1="260.00" x2="778.77" y2="255.40" stroke="#000" stroke-width="1.4" />
<line x1="786.15" y1="193.65" x2="786.15" y2="198.25" stroke="#000" stroke-width="1.4" />
<line x1="786.15" y1="260.00" x2="786.15" y2="255.40" stroke="#000" stroke-width="1.4" />
<line x1="793.53" y1="193.65" x2="793.53" y2="198.25" stroke="#000" stroke-width="1.4" />
<line x1="793.53" y1="260.00" x2="793.53" y2="255.40" stroke="#000" stroke-width="1.4" />
<rect x="135.50" y="355.60" width="664.55" height="66.40" fill="none" stroke="#000" stroke-width="1.5"/>
<line x1="392.70" y1="355.60" x2="392.70" y2="422.00" stroke="#000" stroke-width="1.5" />
<line x1="135.50" y1="362.24" x2="140.10" y2="362.24" stroke="#000" stroke-width="1.4" />
<line x1="135.50" y1="368.88" x2="140.10" y2="368.88" stroke="#000" stroke-width="1.4" />
<line x1="135.50" y1="375.52" x2="140.10" y2="375.52" stroke="#000" stroke-width="1.4" />
<line x1="135.50" y1="382.16" x2="140.10" y2="382.16" stroke="#000" stroke-width="1.4" />
<line x1="135.50" y1="388.80" x2="144.30" y2="388.80" stroke="#000" stroke-width="1.4" />
<line x1="135.50" y1="395.44" x2="140.10" y2="395.44" stroke="#000" stroke-width="1.4" />
<line x1="135.50" y1="402.08" x2="140.10" y2="402.08" stroke="#000" stroke-width="1.4" />
<line x1="135.50" y1="408.72" x2="140.10" y2="408.72" stroke="#000" stroke-width="1.4" />
<line x1="135.50" y1="415.36" x2="140.10" y2="415.36" stroke="#000" stroke-width="1.4" />
<line x1="392.70" y1="362.24" x2="388.10" y2="362.24" stroke="#000" stroke-width="1.4" />
<line x1="392.70" y1="368.88" x2="388.10" y2="368.88" stroke="#000" stroke-width="1.4" />
<line x1="392.70" y1="375.52" x2="388.10" y2="375.52" stroke="#000" stroke-width="1.4" />
<line x1="392.70" y1="382.16" x2="388.10" y2="382.16" stroke="#000" stroke-width="1.4" />
<line x1="392.70" y1="388.80" x2="383.90" y2="388.80" stroke="#000" stroke-width="1.4" />
<line x1="392.70" y1="395.44" x2="388.10" y2="395.44" stroke="#000" stroke-width="1.4" />
<line x1="392.70" y1="402.08" x2="388.10" y2="402.08" stroke="#000" stroke-width="1.4" />
<line x1="392.70" y1="408.72" x2="388.10" y2="408.72" stroke="#000" stroke-width="1.4" />
<line x1="392.70" y1="415.36" x2="388.10" y2="415.36" stroke="#000" stroke-width="1.4" />
<line x1="800.05" y1="358.92" x2="795.45" y2="358.92" stroke="#000" stroke-width="1.4" />
<line x1="800.05" y1="365.56" x2="795.45" y2="365.56" stroke="#000" stroke-width="1.4" />
<line x1="800.05" y1="372.20" x2="791.25" y2="372.20" stroke="#000" stroke-width="1.4" />
<line x1="800.05" y1="378.84" x2="795.45" y2="378.84" stroke="#000" stroke-width="1.4" />
<line x1="800.05" y1="385.48" x2="795.45" y2="385.48" stroke="#000" stroke-width="1.4" />
<line x1="800.05" y1="392.12" x2="795.45" y2="392.12" stroke="#000" stroke-width="1.4" />
<line x1="800.05" y1="398.76" x2="795.45" y2="398.76" stroke="#000" stroke-width="1.4" />
<line x1="800.05" y1="405.40" x2="791.25" y2="405.40" stroke="#000" stroke-width="1.4" />
<line x1="800.05" y1="412.04" x2="795.45" y2="412.04" stroke="#000" stroke-width="1.4" />
<line x1="800.05" y1="418.68" x2="795.45" y2="418.68" stroke="#000" stroke-width="1.4" />
<line x1="143.40" y1="355.60" x2="143.40" y2="360.20" stroke="#000" stroke-width="1.4" />
<line x1="143.40" y1="422.00" x2="143.40" y2="417.40" stroke="#000" stroke-width="1.4" />
<line x1="151.70" y1="355.60" x2="151.70" y2="360.20" stroke="#000" stroke-width="1.4" />
<line x1="151.70" y1="422.00" x2="151.70" y2="417.40" stroke="#000" stroke-width="1.4" />
<line x1="160.00" y1="355.60" x2="160.00" y2="364.40" stroke="#000" stroke-width="1.4" />
<line x1="160.00" y1="422.00" x2="160.00" y2="413.20" stroke="#000" stroke-width="1.4" />
<line x1="168.30" y1="355.60" x2="168.30" y2="360.20" stroke="#000" stroke-width="1.4" />
<line x1="168.30" y1="422.00" x2="168.30" y2="417.40" stroke="#000" stroke-width="1.4" />
<line x1="176.60" y1="355.60" x2="176.60" y2="360.20" stroke="#000" stroke-width="1.4" />
<line x1="176.60" y1="422.00" x2="176.60" y2="417.40" stroke="#000" stroke-width="1.4" />
<line x1="184.90" y1="355.60" x2="184.90" y2="360.20" stroke="#000" stroke-width="1.4" />
<line x1="184.90" y1="422.00" x2="184.90" y2="417.40" stroke="#000" stroke-width="1.4" />
<line x1="193.20" y1="355.60" x2="193.20" y2="360.20" stroke="#000" stroke-width="1.4" />
<line x1="193.20" y1="422.00" x2="193.20" y2="417.40" stroke="#000" stroke-width="1.4" />
<line x1="201.50" y1="355.60" x2="201.50" y2="362.40" stroke="#000" stroke-width="1.4" />
<line x1="201.50" y1="422.00" x2="201.50" y2="415.20" stroke="#000" stroke-width="1.4" />
<line x1="209.80" y1="355.60" x2="209.80" y2="360.20" stroke="#000" stroke-width="1.4" />
<line x1="209.80" y1="422.00" x2="209.80" y2="417.40" stroke="#000" stroke-width="1.4" />
<line x1="218.10" y1="355.60" x2="218.10" y2="360.20" stroke="#000" stroke-width="1.4" />
<line x1="218.10" y1="422.00" x2="218.10" y2="417.40" stroke="#000" stroke-width="1.4" />
<line x1="226.40" y1="355.60" x2="226.40" y2="360.20" stroke="#000" stroke-width="1.4" />
<line x1="226.40" y1="422.00" x2="226.40" y2="417.40" stroke="#000" stroke-width="1.4" />
<line x1="234.70" y1="355.60" x2="234.70" y2="360.20" stroke="#000" stroke-width="1.4" />
<line x1="234.70" y1="422.00" x2="234.70" y2="417.40" stroke="#000" stroke-width="1.4" />
<line x1="243.00" y1="355.60" x2="243.00" y2="364.40" stroke="#000" stroke-width="1.4" />
<line x1="243.00" y1="422.00" x2="243.00" y2="413.20" stroke="#000" stroke-width="1.4" />
<line x1="251.30" y1="355.60" x2="251.30" y2="360.20" stroke="#000" stroke-width="1.4" />
<line x1="251.30" y1="422.00" x2="251.30" y2="417.40" stroke="#000" stroke-width="1.4" />
<line x1="259.60" y1="355.60" x2="259.60" y2="360.20" stroke="#000" stroke-width="1.4" />
<line x1="259.60" y1="422.00" x2="259.60" y2="417.40" stroke="#000" stroke-width="1.4" />
<line x1="267.90" y1="355.60" x2="267.90" y2="360.20" stroke="#000" stroke-width="1.4" />
<line x1="267.90" y1="422.00" x2="267.90" y2="417.40" stroke="#000" stroke-width="1.4" />
<line x1="276.20" y1="355.60" x2="276.20" y2="360.20" stroke="#000" stroke-width="1.4" />
<line x1="276.20" y1="422.00" x2="276.20" y2="417.40" stroke="#000" stroke-width="1.4" />
<line x1="284.50" y1="355.60" x2="284.50" y2="362.40" stroke="#000" stroke-width="1.4" />
<line x1="284.50" y1="422.00" x2="284.50" y2="415.20" stroke="#000" stroke-width="1.4" />
<line x1="292.80" y1="355.60" x2="292.80" y2="360.20" stroke="#000" stroke-width="1.4" />
<line x1="292.80" y1="422.00" x2="292.80" y2="417.40" stroke="#000" stroke-width="1.4" />
<line x1="301.10" y1="355.60" x2="301.10" y2="360.20" stroke="#000" stroke-width="1.4" />
<line x1="301.10" y1="422.00" x2="301.10" y2="417.40" stroke="#000" stroke-width="1.4" />
<line x1="309.40" y1="355.60" x2="309.40" y2="360.20" stroke="#000" stroke-width="1.4" />
<line x1="309.40" y1="422.00" x2="309.40" y2="417.40" stroke="#000" stroke-width="1.4" />
<line x1="317.70" y1="355.60" x2="317.70" y2="360.20" stroke="#000" stroke-width="1.4" />
<line x1="317.70" y1="422.00" x2="317.70" y2="417.40" stroke="#000" stroke-width="1.4" />
<line x1="326.00" y1="355.60" x2="326.00" y2="364.40" stroke="#000" stroke-width="1.4" />
<line x1="326.00" y1="422.00" x2="326.00" y2="413.20" stroke="#000" stroke-width="1.4" />
<line x1="334.30" y1="355.60" x2="334.30" y2="360.20" stroke="#000" stroke-width="1.4" />
<line x1="334.30" y1="422.00" x2="334.30" y2="417.40" stroke="#000" stroke-width="1.4" />
<line x1="342.60" y1="355.60" x2="342.60" y2="360.20" stroke="#000" stroke-width="1.4" />
<line x1="342.60" y1="422.00" x2="342.60" y2="417.40" stroke="#000" stroke-width="1.4" />
<line x1="350.90" y1="355.60" x2="350.90" y2="360.20" stroke="#000" stroke-width="1.4" />
<line x1="350.90" y1="422.00" x2="350.90" y2="417.40" stroke="#000" stroke-width="1.4" />
<line x1="359.20" y1="355.60" x2="359.20" y2="360.20" stroke="#000" stroke-width="1.4" />
<line x1="359.20" y1="422.00" x2="359.20" y2="417.40" stroke="#000" stroke-width="1.4" />
<line x1="367.50" y1="355.60" x2="367.50" y2="362.40" stroke="#000" stroke-width="1.4" />
<line x1="367.50" y1="422.00" x2="367.50" y2="415.20" stroke="#000" stroke-width="1.4" />
<line x1="375.80" y1="355.60" x2="375.80" y2="360.20" stroke="#000" stroke-width="1.4" />
<line x1="375.80" y1="422.00" x2="375.80" y2="417.40" stroke="#000" stroke-width="1.4" />
<line x1="384.10" y1="355.60" x2="384.10" y2="360.20" stroke="#000" stroke-width="1.4" />
<line x1="384.10" y1="422.00" x2="384.10" y2="417.40" stroke="#000" stroke-width="1.4" />
<line x1="398.22" y1="355.60" x2="398.22" y2="360.20" stroke="#000" stroke-width="1.4" />
<line x1="398.22" y1="422.00" x2="398.22" y2="417.40" stroke="#000" stroke-width="1.4" />
<line x1="405.63" y1="355.60" x2="405.63" y2="360.20" stroke="#000" stroke-width="1.4" />
<line x1="405.63" y1="422.00" x2="405.63" y2="417.40" stroke="#000" stroke-width="1.4" />
<line x1="413.04" y1="355.60" x2="413.04" y2="360.20" stroke="#000" stroke-width="1.4" />
<line x1="413.04" y1="422.00" x2="413.04" y2="417.40" stroke="#000" stroke-width="1.4" />
<line x1="420.46" y1="355.60" x2="420.46" y2="360.20" stroke="#000" stroke-width="1.4" />
<line x1="420.46" y1="422.00" x2="420.46" y2="417.40" stroke="#000" stroke-width="1.4" />
<line x1="427.87" y1="355.60" x2="427.87" y2="360.20" stroke="#000" stroke-width="1.4" />
<line x1="427.87" y1="422.00" x2="427.87" y2="417.40" stroke="#000" stroke-width="1.4" />
<line x1="435.28" y1="355.60" x2="435.28" y2="360.20" stroke="#000" stroke-width="1.4" />
<line x1="435.28" y1="422.00" x2="435.28" y2="417.40" stroke="#000" stroke-width="1.4" />
<line x1="442.69" y1="355.60" x2="442.69" y2="360.20" stroke="#000" stroke-width="1.4" />
<line x1="442.69" y1="422.00" x2="442.69" y2="417.40" stroke="#000" stroke-width="1.4" />
<line x1="450.10" y1="355.60" x2="450.10" y2="364.40" stroke="#000" stroke-width="1.4" />
<line x1="450.10" y1="422.00" x2="450.10" y2="413.20" stroke="#000" stroke-width="1.4" />
<line x1="457.51" y1="355.60" x2="457.51" y2="360.20" stroke="#000" stroke-width="1.4" />
<line x1="457.51" y1="422.00" x2="457.51" y2="417.40" stroke="#000" stroke-width="1.4" />
<line x1="464.92" y1="355.60" x2="464.92" y2="360.20" stroke="#000" stroke-width="1.4" />
<line x1="464.92" y1="422.00" x2="464.92" y2="417.40" stroke="#000" stroke-width="1.4" />
<line x1="472.33" y1="355.60" x2="472.33" y2="360.20" stroke="#000" stroke-width="1.4" />
<line x1="472.33" y1="422.00" x2="472.33" y2="417.40" stroke="#000" stroke-width="1.4" />
<line x1="479.74" y1="355.60" x2="479.74" y2="360.20" stroke="#000" stroke-width="1.4" />
<line x1="479.74" y1="422.00" x2="479.74" y2="417.40" stroke="#000" stroke-width="1.4" />
<line x1="487.16" y1="355.60" x2="487.16" y2="360.20" stroke="#000" stroke-width="1.4" />
<line x1="487.16" y1="422.00" x2="487.16" y2="417.40" stroke="#000" stroke-width="1.4" />
<line x1="494.57" y1="355.60" x2="494.57" y2="360.20" stroke="#000" stroke-width="1.4" />
<line x1="494.57" y1="422.00" x2="494.57" y2="417.40" stroke="#000" stroke-width="1.4" />
<line x1="501.98" y1="355.60" x2="501.98" y2="360.20" stroke="#000" stroke-width="1.4" />
<line x1="501.98" y1="422.00" x2="501.98" y2="417.40" stroke="#000" stroke-width="1.4" />
<line x1="509.39" y1="355.60" x2="509.39" y2="360.20" stroke="#000" stroke-width="1.4" />
<line x1="509.39" y1="422.00" x2="509.39" y2="417.40" stroke="#000" stroke-width="1.4" />
<line x1="516.80" y1="355.60" x2="516.80" y2="364.40" stroke="#000" stroke-width="1.4" />
<line x1="516.80" y1="422.00" x2="516.80" y2="413.20" stroke="#000" stroke-width="1.4" />
<line x1="524.21" y1="355.60" x2="524.21" y2="360.20" stroke="#000" stroke-width="1.4" />
<line x1="524.21" y1="422.00" x2="524.21" y2="417.40" stroke="#000" stroke-width="1.4" />
<line x1="531.62" y1="355.60" x2="531.62" y2="360.20" stroke="#000" stroke-width="1.4" />
<line x1="531.62" y1="422.00" x2="531.62" y2="417.40" stroke="#000" stroke-width="1.4" />
<line x1="539.03" y1="355.60" x2="539.03" y2="360.20" stroke="#000" stroke-width="1.4" />
<line x1="539.03" y1="422.00" x2="539.03" y2="417.40" stroke="#000" stroke-width="1.4" />
<line x1="546.44" y1="355.60" x2="546.44" y2="360.20" stroke="#000" stroke-width="1.4" />
<line x1="546.44" y1="422.00" x2="546.44" y2="417.40" stroke="#000" stroke-width="1.4" />
<line x1="553.86" y1="355.60" x2="553.86" y2="360.20" stroke="#000" stroke-width="1.4" />
<line x1="553.86" y1="422.00" x2="553.86" y2="417.40" stroke="#000" stroke-width="1.4" />
<line x1="561.27" y1="355.60" x2="561.27" y2="360.20" stroke="#000" stroke-width="1.4" />
<line x1="561.27" y1="422.00" x2="561.27" y2="417.40" stroke="#000" stroke-width="1.4" />
<line x1="568.68" y1="355.60" x2="568.68" y2="360.20" stroke="#000" stroke-width="1.4" />
<line x1="568.68" y1="422.00" x2="568.68" y2="417.40" stroke="#000" stroke-width="1.4" />
<line x1="576.09" y1="355.60" x2="576.09" y2="360.20" stroke="#000" stroke-width="1.4" />
<line x1="576.09" y1="422.00" x2="576.09" y2="417.40" stroke="#000" stroke-width="1.4" />
<line x1="583.50" y1="355.60" x2="583.50" y2="364.40" stroke="#000" stroke-width="1.4" />
<line x1="583.50" y1="422.00" x2="583.50" y2="413.20" stroke="#000" stroke-width="1.4" />
<line x1="590.91" y1="355.60" x2="590.91" y2="360.20" stroke="#000" stroke-width="1.4" />
<line x1="590.91" y1="422.00" x2="590.91" y2="417.40" stroke="#000" stroke-width="1.4" />
<line x1="598.32" y1="355.60" x2="598.32" y2="360.20" stroke="#000" stroke-width="1.4" />
<line x1="598.32" y1="422.00" x2="598.32" y2="417.40" stroke="#000" stroke-width="1.4" />
<line x1="605.73" y1="355.60" x2="605.73" y2="360.20" stroke="#000" stroke-width="1.4" />
<line x1="605.73" y1="422.00" x2="605.73" y2="417.40" stroke="#000" stroke-width="1.4" />
<line x1="613.14" y1="355.60" x2="613.14" y2="360.20" stroke="#000" stroke-width="1.4" />
<line x1="613.14" y1="422.00" x2="613.14" y2="417.40" stroke="#000" stroke-width="1.4" />
<line x1="620.56" y1="355.60" x2="620.56" y2="360.20" stroke="#000" stroke-width="1.4" />
<line x1="620.56" y1="422.00" x2="620.56" y2="417.40" stroke="#000" stroke-width="1.4" />
<line x1="627.97" y1="355.60" x2="627.97" y2="360.20" stroke="#000" stroke-width="1.4" />
<line x1="627.97" y1="422.00" x2="627.97" y2="417.40" stroke="#000" stroke-width="1.4" />
<line x1="635.38" y1="355.60" x2="635.38" y2="360.20" stroke="#000" stroke-width="1.4" />
<line x1="635.38" y1="422.00" x2="635.38" y2="417.40" stroke="#000" stroke-width="1.4" />
<line x1="642.79" y1="355.60" x2="642.79" y2="360.20" stroke="#000" stroke-width="1.4" />
<line x1="642.79" y1="422.00" x2="642.79" y2="417.40" stroke="#000" stroke-width="1.4" />
<line x1="650.20" y1="355.60" x2="650.20" y2="364.40" stroke="#000" stroke-width="1.4" />
<line x1="650.20" y1="422.00" x2="650.20" y2="413.20" stroke="#000" stroke-width="1.4" />
<line x1="657.61" y1="355.60" x2="657.61" y2="360.20" stroke="#000" stroke-width="1.4" />
<line x1="657.61" y1="422.00" x2="657.61" y2="417.40" stroke="#000" stroke-width="1.4" />
<line x1="665.02" y1="355.60" x2="665.02" y2="360.20" stroke="#000" stroke-width="1.4" />
<line x1="665.02" y1="422.00" x2="665.02" y2="417.40" stroke="#000" stroke-width="1.4" />
<line x1="672.43" y1="355.60" x2="672.43" y2="360.20" stroke="#000" stroke-width="1.4" />
<line x1="672.43" y1="422.00" x2="672.43" y2="417.40" stroke="#000" stroke-width="1.4" />
<line x1="679.84" y1="355.60" x2="679.84" y2="360.20" stroke="#000" stroke-width="1.4" />
<line x1="679.84" y1="422.00" x2="679.84" y2="417.40" stroke="#000" stroke-width="1.4" />
<line x1="687.26" y1="355.60" x2="687.26" y2="360.20" stroke="#000" stroke-width="1.4" />
<line x1="687.26" y1="422.00" x2="687.26" y2="417.40" stroke="#000" stroke-width="1.4" />
<line x1="694.67" y1="355.60" x2="694.67" y2="360.20" stroke="#000" stroke-width="1.4" />
<line x1="694.67" y1="422.00" x2="694.67" y2="417.40" stroke="#000" stroke-width="1.4" />
<line x1="702.08" y1="355.60" x2="702.08" y2="360.20" stroke="#000" stroke-width="1.4" />
<line x1="702.08" y1="422.00" x2="702.08" y2="417.40" stroke="#000" stroke-width="1.4" />
<line x1="709.49" y1="355.60" x2="709.49" y2="360.20" stroke="#000" stroke-width="1.4" />
<line x1="709.49" y1="422.00" x2="709.49" y2="417.40" stroke="#000" stroke-width="1.4" />
<line x1="716.90" y1="355.60" x2="716.90" y2="364.40" stroke="#000" stroke-width="1.4" />
<line x1="716.90" y1="422.00" x2="716.90" y2="413.20" stroke="#000" stroke-width="1.4" />
<line x1="724.31" y1="355.60" x2="724.31" y2="360.20" stroke="#000" stroke-width="1.4" />
<line x1="724.31" y1="422.00" x2="724.31" y2="417.40" stroke="#000" stroke-width="1.4" />
<line x1="731.72" y1="355.60" x2="731.72" y2="360.20" stroke="#000" stroke-width="1.4" />
<line x1="731.72" y1="422.00" x2="731.72" y2="417.40" stroke="#000" stroke-width="1.4" />
<line x1="739.13" y1="355.60" x2="739.13" y2="360.20" stroke="#000" stroke-width="1.4" />
<line x1="739.13" y1="422.00" x2="739.13" y2="417.40" stroke="#000" stroke-width="1.4" />
<line x1="746.54" y1="355.60" x2="746.54" y2="360.20" stroke="#000" stroke-width="1.4" />
<line x1="746.54" y1="422.00" x2="746.54" y2="417.40" stroke="#000" stroke-width="1.4" />
<line x1="753.96" y1="355.60" x2="753.96" y2="360.20" stroke="#000" stroke-width="1.4" />
<line x1="753.96" y1="422.00" x2="753.96" y2="417.40" stroke="#000" stroke-width="1.4" />
<line x1="761.37" y1="355.60" x2="761.37" y2="360.20" stroke="#000" stroke-width="1.4" />
<line x1="761.37" y1="422.00" x2="761.37" y2="417.40" stroke="#000" stroke-width="1.4" />
<line x1="768.78" y1="355.60" x2="768.78" y2="360.20" stroke="#000" stroke-width="1.4" />
<line x1="768.78" y1="422.00" x2="768.78" y2="417.40" stroke="#000" stroke-width="1.4" />
<line x1="776.19" y1="355.60" x2="776.19" y2="360.20" stroke="#000" stroke-width="1.4" />
<line x1="776.19" y1="422.00" x2="776.19" y2="417.40" stroke="#000" stroke-width="1.4" />
<line x1="783.60" y1="355.60" x2="783.60" y2="364.40" stroke="#000" stroke-width="1.4" />
<line x1="783.60" y1="422.00" x2="783.60" y2="413.20" stroke="#000" stroke-width="1.4" />
<line x1="791.01" y1="355.60" x2="791.01" y2="360.20" stroke="#000" stroke-width="1.4" />
<line x1="791.01" y1="422.00" x2="791.01" y2="417.40" stroke="#000" stroke-width="1.4" />
<line x1="798.42" y1="355.60" x2="798.42" y2="360.20" stroke="#000" stroke-width="1.4" />
<line x1="798.42" y1="422.00" x2="798.42" y2="417.40" stroke="#000" stroke-width="1.4" />
<circle cx="140.90" cy="38.60" r="3.55" fill="none" stroke="#111" stroke-width="0.8"/>
<circle cx="142.20" cy="40.60" r="3.55" fill="none" stroke="#111" stroke-width="0.8"/>
<circle cx="144.80" cy="42.50" r="3.55" fill="none" stroke="#111" stroke-width="0.8"/>
<circle cx="151.90" cy="43.30" r="3.55" fill="none" stroke="#111" stroke-width="0.8"/>
<circle cx="154.70" cy="44.40" r="3.55" fill="none" stroke="#111" stroke-width="0.8"/>
<circle cx="157.30" cy="45.30" r="3.55" fill="none" stroke="#111" stroke-width="0.8"/>
<circle cx="161.30" cy="47.70" r="3.55" fill="none" stroke="#111" stroke-width="0.8"/>
<circle cx="169.00" cy="49.00" r="3.55" fill="none" stroke="#111" stroke-width="0.8"/>
<circle cx="176.10" cy="51.60" r="3.55" fill="none" stroke="#111" stroke-width="0.8"/>
<circle cx="177.20" cy="53.10" r="3.55" fill="none" stroke="#111" stroke-width="0.8"/>
<circle cx="173.80" cy="55.80" r="3.55" fill="none" stroke="#111" stroke-width="0.8"/>
<circle cx="175.60" cy="57.30" r="3.55" fill="none" stroke="#111" stroke-width="0.8"/>
<circle cx="181.60" cy="55.00" r="3.55" fill="none" stroke="#111" stroke-width="0.8"/>
<circle cx="187.50" cy="60.20" r="3.55" fill="none" stroke="#111" stroke-width="0.8"/>
<circle cx="194.00" cy="62.80" r="3.55" fill="none" stroke="#111" stroke-width="0.8"/>
<circle cx="198.00" cy="63.10" r="3.55" fill="none" stroke="#111" stroke-width="0.8"/>
<circle cx="200.30" cy="65.20" r="3.55" fill="none" stroke="#111" stroke-width="0.8"/>
<circle cx="202.20" cy="66.70" r="3.55" fill="none" stroke="#111" stroke-width="0.8"/>
<circle cx="203.10" cy="59.70" r="3.55" fill="none" stroke="#111" stroke-width="0.8"/>
<circle cx="206.30" cy="62.00" r="3.55" fill="none" stroke="#111" stroke-width="0.8"/>
<circle cx="205.80" cy="68.30" r="3.55" fill="none" stroke="#111" stroke-width="0.8"/>
<circle cx="212.80" cy="70.30" r="3.55" fill="none" stroke="#111" stroke-width="0.8"/>
<circle cx="215.60" cy="71.40" r="3.55" fill="none" stroke="#111" stroke-width="0.8"/>
<circle cx="220.60" cy="73.00" r="3.55" fill="none" stroke="#111" stroke-width="0.8"/>
<circle cx="223.80" cy="74.50" r="3.55" fill="none" stroke="#111" stroke-width="0.8"/>
<circle cx="226.90" cy="76.10" r="3.55" fill="none" stroke="#111" stroke-width="0.8"/>
<circle cx="230.00" cy="77.70" r="3.55" fill="none" stroke="#111" stroke-width="0.8"/>
<circle cx="231.60" cy="79.20" r="3.55" fill="none" stroke="#111" stroke-width="0.8"/>
<circle cx="233.90" cy="80.00" r="3.55" fill="none" stroke="#111" stroke-width="0.8"/>
<circle cx="237.80" cy="82.30" r="3.55" fill="none" stroke="#111" stroke-width="0.8"/>
<circle cx="238.70" cy="82.40" r="3.55" fill="none" stroke="#111" stroke-width="0.8"/>
<circle cx="243.00" cy="83.00" r="3.55" fill="none" stroke="#111" stroke-width="0.8"/>
<circle cx="246.20" cy="84.90" r="3.55" fill="none" stroke="#111" stroke-width="0.8"/>
<circle cx="250.00" cy="86.20" r="3.55" fill="none" stroke="#111" stroke-width="0.8"/>
<circle cx="252.40" cy="87.40" r="3.55" fill="none" stroke="#111" stroke-width="0.8"/>
<circle cx="254.30" cy="88.00" r="3.55" fill="none" stroke="#111" stroke-width="0.8"/>
<circle cx="253.00" cy="89.90" r="3.55" fill="none" stroke="#111" stroke-width="0.8"/>
<circle cx="256.20" cy="88.70" r="3.55" fill="none" stroke="#111" stroke-width="0.8"/>
<circle cx="260.00" cy="89.90" r="3.55" fill="none" stroke="#111" stroke-width="0.8"/>
<circle cx="263.00" cy="89.90" r="3.55" fill="none" stroke="#111" stroke-width="0.8"/>
<circle cx="265.50" cy="90.50" r="3.55" fill="none" stroke="#111" stroke-width="0.8"/>
<circle cx="270.50" cy="92.40" r="3.55" fill="none" stroke="#111" stroke-width="0.8"/>
<circle cx="272.40" cy="91.80" r="3.55" fill="none" stroke="#111" stroke-width="0.8"/>
<circle cx="274.90" cy="90.50" r="3.55" fill="none" stroke="#111" stroke-width="0.8"/>
<circle cx="277.40" cy="93.00" r="3.55" fill="none" stroke="#111" stroke-width="0.8"/>
<circle cx="294.90" cy="92.70" r="3.55" fill="none" stroke="#111" stroke-width="0.8"/>
<circle cx="298.80" cy="92.70" r="3.55" fill="none" stroke="#111" stroke-width="0.8"/>
<circle cx="241.00" cy="84.20" r="3.55" fill="none" stroke="#111" stroke-width="0.8"/>
<circle cx="244.50" cy="85.50" r="3.55" fill="none" stroke="#111" stroke-width="0.8"/>
<circle cx="248.00" cy="86.80" r="3.55" fill="none" stroke="#111" stroke-width="0.8"/>
<circle cx="251.00" cy="88.30" r="3.55" fill="none" stroke="#111" stroke-width="0.8"/>
<circle cx="255.00" cy="89.50" r="3.55" fill="none" stroke="#111" stroke-width="0.8"/>
<circle cx="257.50" cy="90.30" r="3.55" fill="none" stroke="#111" stroke-width="0.8"/>
<circle cx="258.80" cy="88.20" r="3.55" fill="none" stroke="#111" stroke-width="0.8"/>
<circle cx="261.50" cy="91.00" r="3.55" fill="none" stroke="#111" stroke-width="0.8"/>
<circle cx="266.80" cy="91.50" r="3.55" fill="none" stroke="#111" stroke-width="0.8"/>
<circle cx="268.50" cy="90.20" r="3.55" fill="none" stroke="#111" stroke-width="0.8"/>
<circle cx="253.80" cy="86.00" r="3.55" fill="none" stroke="#111" stroke-width="0.8"/>
<circle cx="247.20" cy="83.80" r="3.55" fill="none" stroke="#111" stroke-width="0.8"/>
<circle cx="252.00" cy="87.00" r="3.55" fill="none" stroke="#111" stroke-width="0.8"/>
<circle cx="252.80" cy="88.40" r="3.55" fill="none" stroke="#111" stroke-width="0.8"/>
<circle cx="253.50" cy="89.20" r="3.55" fill="none" stroke="#111" stroke-width="0.8"/>
<circle cx="254.20" cy="88.00" r="3.55" fill="none" stroke="#111" stroke-width="0.8"/>
<circle cx="253.20" cy="90.40" r="3.55" fill="none" stroke="#111" stroke-width="0.8"/>
<circle cx="251.40" cy="88.90" r="3.55" fill="none" stroke="#111" stroke-width="0.8"/>
<circle cx="255.00" cy="89.90" r="3.55" fill="none" stroke="#111" stroke-width="0.8"/>
<circle cx="260.60" cy="90.30" r="3.55" fill="none" stroke="#111" stroke-width="0.8"/>
<circle cx="261.20" cy="89.50" r="3.55" fill="none" stroke="#111" stroke-width="0.8"/>
<circle cx="259.60" cy="90.60" r="3.55" fill="none" stroke="#111" stroke-width="0.8"/>
<circle cx="262.40" cy="90.20" r="3.55" fill="none" stroke="#111" stroke-width="0.8"/>
<circle cx="270.00" cy="92.00" r="3.55" fill="none" stroke="#111" stroke-width="0.8"/>
<circle cx="271.00" cy="92.60" r="3.55" fill="none" stroke="#111" stroke-width="0.8"/>
<circle cx="270.40" cy="91.60" r="3.55" fill="none" stroke="#111" stroke-width="0.8"/>
<circle cx="271.60" cy="92.20" r="3.55" fill="none" stroke="#111" stroke-width="0.8"/>
<circle cx="230.80" cy="77.20" r="3.55" fill="none" stroke="#111" stroke-width="0.8"/>
<circle cx="231.20" cy="78.40" r="3.55" fill="none" stroke="#111" stroke-width="0.8"/>
<circle cx="226.20" cy="75.40" r="3.55" fill="none" stroke="#111" stroke-width="0.8"/>
<line x1="354.50" y1="38.50" x2="788.80" y2="100.50" stroke="#000" stroke-width="1.3" />
<circle cx="354.50" cy="38.90" r="3.55" fill="none" stroke="#111" stroke-width="0.8"/>
<circle cx="369.50" cy="40.90" r="3.55" fill="none" stroke="#111" stroke-width="0.8"/>
<circle cx="383.10" cy="42.70" r="3.55" fill="none" stroke="#111" stroke-width="0.8"/>
<circle cx="395.60" cy="44.10" r="3.55" fill="none" stroke="#111" stroke-width="0.8"/>
<circle cx="407.60" cy="45.00" r="3.55" fill="none" stroke="#111" stroke-width="0.8"/>
<circle cx="419.50" cy="47.20" r="3.55" fill="none" stroke="#111" stroke-width="0.8"/>
<circle cx="430.10" cy="48.90" r="3.55" fill="none" stroke="#111" stroke-width="0.8"/>
<circle cx="439.70" cy="51.10" r="3.55" fill="none" stroke="#111" stroke-width="0.8"/>
<circle cx="449.50" cy="52.30" r="3.55" fill="none" stroke="#111" stroke-width="0.8"/>
<circle cx="459.70" cy="53.20" r="3.55" fill="none" stroke="#111" stroke-width="0.8"/>
<circle cx="469.90" cy="55.00" r="3.55" fill="none" stroke="#111" stroke-width="0.8"/>
<circle cx="478.40" cy="56.20" r="3.55" fill="none" stroke="#111" stroke-width="0.8"/>
<circle cx="487.30" cy="57.40" r="3.55" fill="none" stroke="#111" stroke-width="0.8"/>
<circle cx="505.60" cy="60.10" r="3.55" fill="none" stroke="#111" stroke-width="0.8"/>
<circle cx="513.50" cy="61.50" r="3.55" fill="none" stroke="#111" stroke-width="0.8"/>
<circle cx="522.00" cy="62.90" r="3.55" fill="none" stroke="#111" stroke-width="0.8"/>
<circle cx="529.50" cy="63.70" r="3.55" fill="none" stroke="#111" stroke-width="0.8"/>
<circle cx="536.60" cy="64.80" r="3.55" fill="none" stroke="#111" stroke-width="0.8"/>
<circle cx="544.10" cy="65.80" r="3.55" fill="none" stroke="#111" stroke-width="0.8"/>
<circle cx="551.60" cy="66.90" r="3.55" fill="none" stroke="#111" stroke-width="0.8"/>
<circle cx="557.70" cy="68.00" r="3.55" fill="none" stroke="#111" stroke-width="0.8"/>
<circle cx="564.50" cy="69.30" r="3.55" fill="none" stroke="#111" stroke-width="0.8"/>
<circle cx="571.30" cy="71.20" r="3.55" fill="none" stroke="#111" stroke-width="0.8"/>
<circle cx="578.80" cy="71.20" r="3.55" fill="none" stroke="#111" stroke-width="0.8"/>
<circle cx="584.90" cy="72.10" r="3.55" fill="none" stroke="#111" stroke-width="0.8"/>
<circle cx="591.00" cy="73.10" r="3.55" fill="none" stroke="#111" stroke-width="0.8"/>
<circle cx="597.10" cy="74.20" r="3.55" fill="none" stroke="#111" stroke-width="0.8"/>
<circle cx="602.70" cy="74.90" r="3.55" fill="none" stroke="#111" stroke-width="0.8"/>
<circle cx="608.30" cy="75.70" r="3.55" fill="none" stroke="#111" stroke-width="0.8"/>
<circle cx="613.90" cy="76.90" r="3.55" fill="none" stroke="#111" stroke-width="0.8"/>
<circle cx="619.20" cy="77.90" r="3.55" fill="none" stroke="#111" stroke-width="0.8"/>
<circle cx="624.90" cy="78.80" r="3.55" fill="none" stroke="#111" stroke-width="0.8"/>
<circle cx="630.50" cy="79.30" r="3.55" fill="none" stroke="#111" stroke-width="0.8"/>
<circle cx="635.80" cy="80.80" r="3.55" fill="none" stroke="#111" stroke-width="0.8"/>
<circle cx="641.50" cy="80.50" r="3.55" fill="none" stroke="#111" stroke-width="0.8"/>
<circle cx="646.40" cy="81.40" r="3.55" fill="none" stroke="#111" stroke-width="0.8"/>
<circle cx="651.40" cy="81.80" r="3.55" fill="none" stroke="#111" stroke-width="0.8"/>
<circle cx="656.40" cy="82.40" r="3.55" fill="none" stroke="#111" stroke-width="0.8"/>
<circle cx="660.70" cy="83.00" r="3.55" fill="none" stroke="#111" stroke-width="0.8"/>
<circle cx="666.40" cy="84.00" r="3.55" fill="none" stroke="#111" stroke-width="0.8"/>
<circle cx="671.30" cy="83.30" r="3.55" fill="none" stroke="#111" stroke-width="0.8"/>
<circle cx="675.60" cy="84.70" r="3.55" fill="none" stroke="#111" stroke-width="0.8"/>
<circle cx="679.60" cy="85.30" r="3.55" fill="none" stroke="#111" stroke-width="0.8"/>
<circle cx="684.60" cy="85.70" r="3.55" fill="none" stroke="#111" stroke-width="0.8"/>
<circle cx="688.90" cy="86.30" r="3.55" fill="none" stroke="#111" stroke-width="0.8"/>
<circle cx="693.90" cy="86.90" r="3.55" fill="none" stroke="#111" stroke-width="0.8"/>
<circle cx="697.90" cy="87.30" r="3.55" fill="none" stroke="#111" stroke-width="0.8"/>
<circle cx="702.20" cy="86.60" r="3.55" fill="none" stroke="#111" stroke-width="0.8"/>
<circle cx="706.20" cy="87.40" r="3.55" fill="none" stroke="#111" stroke-width="0.8"/>
<circle cx="710.20" cy="88.50" r="3.55" fill="none" stroke="#111" stroke-width="0.8"/>
<circle cx="714.50" cy="88.90" r="3.55" fill="none" stroke="#111" stroke-width="0.8"/>
<circle cx="718.40" cy="88.40" r="3.55" fill="none" stroke="#111" stroke-width="0.8"/>
<circle cx="722.80" cy="89.00" r="3.55" fill="none" stroke="#111" stroke-width="0.8"/>
<circle cx="726.70" cy="89.30" r="3.55" fill="none" stroke="#111" stroke-width="0.8"/>
<circle cx="731.10" cy="89.70" r="3.55" fill="none" stroke="#111" stroke-width="0.8"/>
<circle cx="735.40" cy="90.00" r="3.55" fill="none" stroke="#111" stroke-width="0.8"/>
<circle cx="739.40" cy="90.30" r="3.55" fill="none" stroke="#111" stroke-width="0.8"/>
<circle cx="743.30" cy="90.70" r="3.55" fill="none" stroke="#111" stroke-width="0.8"/>
<circle cx="747.60" cy="90.70" r="3.55" fill="none" stroke="#111" stroke-width="0.8"/>
<circle cx="751.60" cy="90.00" r="3.55" fill="none" stroke="#111" stroke-width="0.8"/>
<circle cx="755.30" cy="90.30" r="3.55" fill="none" stroke="#111" stroke-width="0.8"/>
<circle cx="760.30" cy="91.00" r="3.55" fill="none" stroke="#111" stroke-width="0.8"/>
<circle cx="762.60" cy="91.30" r="3.55" fill="none" stroke="#111" stroke-width="0.8"/>
<circle cx="767.60" cy="91.70" r="3.55" fill="none" stroke="#111" stroke-width="0.8"/>
<circle cx="771.90" cy="91.70" r="3.55" fill="none" stroke="#111" stroke-width="0.8"/>
<circle cx="775.90" cy="92.00" r="3.55" fill="none" stroke="#111" stroke-width="0.8"/>
<circle cx="780.20" cy="92.30" r="3.55" fill="none" stroke="#111" stroke-width="0.8"/>
<circle cx="784.10" cy="92.30" r="3.55" fill="none" stroke="#111" stroke-width="0.8"/>
<circle cx="788.50" cy="92.00" r="3.55" fill="none" stroke="#111" stroke-width="0.8"/>
<rect x="135.35" y="192.85" width="6.7" height="6.7" fill="none" stroke="#fb5c12" stroke-width="1.0"/>
<rect x="141.65" y="192.85" width="6.7" height="6.7" fill="none" stroke="#fb5c12" stroke-width="1.0"/>
<rect x="148.55" y="195.35" width="6.7" height="6.7" fill="none" stroke="#fb5c12" stroke-width="1.0"/>
<rect x="157.85" y="196.65" width="6.7" height="6.7" fill="none" stroke="#fb5c12" stroke-width="1.0"/>
<rect x="164.05" y="198.65" width="6.7" height="6.7" fill="none" stroke="#fb5c12" stroke-width="1.0"/>
<rect x="166.55" y="199.15" width="6.7" height="6.7" fill="none" stroke="#fb5c12" stroke-width="1.0"/>
<rect x="174.05" y="200.35" width="6.7" height="6.7" fill="none" stroke="#fb5c12" stroke-width="1.0"/>
<rect x="180.25" y="202.05" width="6.7" height="6.7" fill="none" stroke="#fb5c12" stroke-width="1.0"/>
<rect x="185.25" y="202.85" width="6.7" height="6.7" fill="none" stroke="#fb5c12" stroke-width="1.0"/>
<rect x="190.25" y="204.05" width="6.7" height="6.7" fill="none" stroke="#fb5c12" stroke-width="1.0"/>
<rect x="194.45" y="206.05" width="6.7" height="6.7" fill="none" stroke="#fb5c12" stroke-width="1.0"/>
<rect x="200.25" y="206.55" width="6.7" height="6.7" fill="none" stroke="#fb5c12" stroke-width="1.0"/>
<rect x="207.65" y="208.35" width="6.7" height="6.7" fill="none" stroke="#fb5c12" stroke-width="1.0"/>
<rect x="212.65" y="209.55" width="6.7" height="6.7" fill="none" stroke="#fb5c12" stroke-width="1.0"/>
<rect x="218.95" y="212.05" width="6.7" height="6.7" fill="none" stroke="#fb5c12" stroke-width="1.0"/>
<rect x="225.15" y="213.55" width="6.7" height="6.7" fill="none" stroke="#fb5c12" stroke-width="1.0"/>
<rect x="228.85" y="215.35" width="6.7" height="6.7" fill="none" stroke="#fb5c12" stroke-width="1.0"/>
<rect x="231.35" y="217.85" width="6.7" height="6.7" fill="none" stroke="#fb5c12" stroke-width="1.0"/>
<rect x="228.35" y="220.35" width="6.7" height="6.7" fill="none" stroke="#fb5c12" stroke-width="1.0"/>
<rect x="233.85" y="219.55" width="6.7" height="6.7" fill="none" stroke="#fb5c12" stroke-width="1.0"/>
<rect x="237.15" y="220.35" width="6.7" height="6.7" fill="none" stroke="#fb5c12" stroke-width="1.0"/>
<rect x="245.15" y="221.55" width="6.7" height="6.7" fill="none" stroke="#fb5c12" stroke-width="1.0"/>
<rect x="248.85" y="222.75" width="6.7" height="6.7" fill="none" stroke="#fb5c12" stroke-width="1.0"/>
<rect x="253.85" y="222.05" width="6.7" height="6.7" fill="none" stroke="#fb5c12" stroke-width="1.0"/>
<rect x="258.85" y="221.55" width="6.7" height="6.7" fill="none" stroke="#fb5c12" stroke-width="1.0"/>
<rect x="262.55" y="222.75" width="6.7" height="6.7" fill="none" stroke="#fb5c12" stroke-width="1.0"/>
<rect x="263.85" y="226.05" width="6.7" height="6.7" fill="none" stroke="#fb5c12" stroke-width="1.0"/>
<rect x="268.75" y="226.05" width="6.7" height="6.7" fill="none" stroke="#fb5c12" stroke-width="1.0"/>
<rect x="273.75" y="226.55" width="6.7" height="6.7" fill="none" stroke="#fb5c12" stroke-width="1.0"/>
<rect x="278.75" y="227.05" width="6.7" height="6.7" fill="none" stroke="#fb5c12" stroke-width="1.0"/>
<rect x="283.75" y="227.05" width="6.7" height="6.7" fill="none" stroke="#fb5c12" stroke-width="1.0"/>
<rect x="288.75" y="227.25" width="6.7" height="6.7" fill="none" stroke="#fb5c12" stroke-width="1.0"/>
<rect x="293.75" y="227.55" width="6.7" height="6.7" fill="none" stroke="#fb5c12" stroke-width="1.0"/>
<rect x="298.75" y="227.55" width="6.7" height="6.7" fill="none" stroke="#fb5c12" stroke-width="1.0"/>
<rect x="303.65" y="227.55" width="6.7" height="6.7" fill="none" stroke="#fb5c12" stroke-width="1.0"/>
<rect x="309.95" y="226.55" width="6.7" height="6.7" fill="none" stroke="#fb5c12" stroke-width="1.0"/>
<rect x="317.45" y="227.05" width="6.7" height="6.7" fill="none" stroke="#fb5c12" stroke-width="1.0"/>
<rect x="323.65" y="226.55" width="6.7" height="6.7" fill="none" stroke="#fb5c12" stroke-width="1.0"/>
<rect x="327.35" y="226.55" width="6.7" height="6.7" fill="none" stroke="#fb5c12" stroke-width="1.0"/>
<rect x="266.15" y="225.25" width="6.7" height="6.7" fill="none" stroke="#fb5c12" stroke-width="1.0"/>
<rect x="271.15" y="226.45" width="6.7" height="6.7" fill="none" stroke="#fb5c12" stroke-width="1.0"/>
<rect x="276.25" y="226.85" width="6.7" height="6.7" fill="none" stroke="#fb5c12" stroke-width="1.0"/>
<rect x="281.25" y="227.25" width="6.7" height="6.7" fill="none" stroke="#fb5c12" stroke-width="1.0"/>
<rect x="286.25" y="226.85" width="6.7" height="6.7" fill="none" stroke="#fb5c12" stroke-width="1.0"/>
<rect x="291.25" y="227.65" width="6.7" height="6.7" fill="none" stroke="#fb5c12" stroke-width="1.0"/>
<rect x="296.25" y="227.25" width="6.7" height="6.7" fill="none" stroke="#fb5c12" stroke-width="1.0"/>
<rect x="301.15" y="227.85" width="6.7" height="6.7" fill="none" stroke="#fb5c12" stroke-width="1.0"/>
<rect x="306.15" y="227.05" width="6.7" height="6.7" fill="none" stroke="#fb5c12" stroke-width="1.0"/>
<rect x="311.25" y="227.25" width="6.7" height="6.7" fill="none" stroke="#fb5c12" stroke-width="1.0"/>
<rect x="251.15" y="222.45" width="6.7" height="6.7" fill="none" stroke="#fb5c12" stroke-width="1.0"/>
<rect x="256.35" y="221.85" width="6.7" height="6.7" fill="none" stroke="#fb5c12" stroke-width="1.0"/>
<rect x="230.15" y="216.65" width="6.7" height="6.7" fill="none" stroke="#fb5c12" stroke-width="1.0"/>
<rect x="232.45" y="218.85" width="6.7" height="6.7" fill="none" stroke="#fb5c12" stroke-width="1.0"/>
<line x1="352.50" y1="193.30" x2="800.00" y2="246.30" stroke="#ff5a00" stroke-width="1.35" />
<rect x="359.35" y="192.65" width="6.7" height="6.7" fill="none" stroke="#fb5c12" stroke-width="1.0"/>
<rect x="372.45" y="192.65" width="6.7" height="6.7" fill="none" stroke="#fb5c12" stroke-width="1.0"/>
<rect x="384.65" y="194.65" width="6.7" height="6.7" fill="none" stroke="#fb5c12" stroke-width="1.0"/>
<rect x="396.45" y="195.45" width="6.7" height="6.7" fill="none" stroke="#fb5c12" stroke-width="1.0"/>
<rect x="406.35" y="197.25" width="6.7" height="6.7" fill="none" stroke="#fb5c12" stroke-width="1.0"/>
<rect x="417.25" y="198.05" width="6.7" height="6.7" fill="none" stroke="#fb5c12" stroke-width="1.0"/>
<rect x="429.05" y="199.15" width="6.7" height="6.7" fill="none" stroke="#fb5c12" stroke-width="1.0"/>
<rect x="437.65" y="200.45" width="6.7" height="6.7" fill="none" stroke="#fb5c12" stroke-width="1.0"/>
<rect x="446.75" y="201.75" width="6.7" height="6.7" fill="none" stroke="#fb5c12" stroke-width="1.0"/>
<rect x="455.05" y="202.55" width="6.7" height="6.7" fill="none" stroke="#fb5c12" stroke-width="1.0"/>
<rect x="462.35" y="203.25" width="6.7" height="6.7" fill="none" stroke="#fb5c12" stroke-width="1.0"/>
<rect x="470.75" y="204.35" width="6.7" height="6.7" fill="none" stroke="#fb5c12" stroke-width="1.0"/>
<rect x="478.55" y="204.95" width="6.7" height="6.7" fill="none" stroke="#fb5c12" stroke-width="1.0"/>
<rect x="485.85" y="206.25" width="6.7" height="6.7" fill="none" stroke="#fb5c12" stroke-width="1.0"/>
<rect x="492.85" y="206.95" width="6.7" height="6.7" fill="none" stroke="#fb5c12" stroke-width="1.0"/>
<rect x="499.95" y="207.75" width="6.7" height="6.7" fill="none" stroke="#fb5c12" stroke-width="1.0"/>
<rect x="506.45" y="208.45" width="6.7" height="6.7" fill="none" stroke="#fb5c12" stroke-width="1.0"/>
<rect x="512.95" y="209.25" width="6.7" height="6.7" fill="none" stroke="#fb5c12" stroke-width="1.0"/>
<rect x="519.45" y="209.95" width="6.7" height="6.7" fill="none" stroke="#fb5c12" stroke-width="1.0"/>
<rect x="525.45" y="210.95" width="6.7" height="6.7" fill="none" stroke="#fb5c12" stroke-width="1.0"/>
<rect x="531.45" y="211.65" width="6.7" height="6.7" fill="none" stroke="#fb5c12" stroke-width="1.0"/>
<rect x="537.25" y="212.45" width="6.7" height="6.7" fill="none" stroke="#fb5c12" stroke-width="1.0"/>
<rect x="542.45" y="213.35" width="6.7" height="6.7" fill="none" stroke="#fb5c12" stroke-width="1.0"/>
<rect x="547.65" y="214.15" width="6.7" height="6.7" fill="none" stroke="#fb5c12" stroke-width="1.0"/>
<rect x="552.35" y="214.75" width="6.7" height="6.7" fill="none" stroke="#fb5c12" stroke-width="1.0"/>
<rect x="556.75" y="215.45" width="6.7" height="6.7" fill="none" stroke="#fb5c12" stroke-width="1.0"/>
<rect x="561.45" y="215.95" width="6.7" height="6.7" fill="none" stroke="#fb5c12" stroke-width="1.0"/>
<rect x="565.85" y="216.45" width="6.7" height="6.7" fill="none" stroke="#fb5c12" stroke-width="1.0"/>
<rect x="569.85" y="216.95" width="6.7" height="6.7" fill="none" stroke="#fb5c12" stroke-width="1.0"/>
<rect x="573.65" y="217.38" width="6.7" height="6.7" fill="none" stroke="#fb5c12" stroke-width="1.0"/>
<rect x="577.25" y="217.66" width="6.7" height="6.7" fill="none" stroke="#fb5c12" stroke-width="1.0"/>
<rect x="580.83" y="218.55" width="6.7" height="6.7" fill="none" stroke="#fb5c12" stroke-width="1.0"/>
<rect x="584.39" y="218.47" width="6.7" height="6.7" fill="none" stroke="#fb5c12" stroke-width="1.0"/>
<rect x="587.94" y="219.32" width="6.7" height="6.7" fill="none" stroke="#fb5c12" stroke-width="1.0"/>
<rect x="591.46" y="219.60" width="6.7" height="6.7" fill="none" stroke="#fb5c12" stroke-width="1.0"/>
<rect x="594.97" y="219.75" width="6.7" height="6.7" fill="none" stroke="#fb5c12" stroke-width="1.0"/>
<rect x="598.46" y="220.56" width="6.7" height="6.7" fill="none" stroke="#fb5c12" stroke-width="1.0"/>
<rect x="601.93" y="220.51" width="6.7" height="6.7" fill="none" stroke="#fb5c12" stroke-width="1.0"/>
<rect x="605.39" y="221.25" width="6.7" height="6.7" fill="none" stroke="#fb5c12" stroke-width="1.0"/>
<rect x="608.82" y="221.30" width="6.7" height="6.7" fill="none" stroke="#fb5c12" stroke-width="1.0"/>
<rect x="612.24" y="221.70" width="6.7" height="6.7" fill="none" stroke="#fb5c12" stroke-width="1.0"/>
<rect x="615.64" y="222.37" width="6.7" height="6.7" fill="none" stroke="#fb5c12" stroke-width="1.0"/>
<rect x="619.02" y="223.03" width="6.7" height="6.7" fill="none" stroke="#fb5c12" stroke-width="1.0"/>
<rect x="622.39" y="222.67" width="6.7" height="6.7" fill="none" stroke="#fb5c12" stroke-width="1.0"/>
<rect x="625.73" y="223.03" width="6.7" height="6.7" fill="none" stroke="#fb5c12" stroke-width="1.0"/>
<rect x="629.06" y="223.66" width="6.7" height="6.7" fill="none" stroke="#fb5c12" stroke-width="1.0"/>
<rect x="632.38" y="224.21" width="6.7" height="6.7" fill="none" stroke="#fb5c12" stroke-width="1.0"/>
<rect x="635.67" y="224.14" width="6.7" height="6.7" fill="none" stroke="#fb5c12" stroke-width="1.0"/>
<rect x="638.95" y="224.21" width="6.7" height="6.7" fill="none" stroke="#fb5c12" stroke-width="1.0"/>
<rect x="642.21" y="224.94" width="6.7" height="6.7" fill="none" stroke="#fb5c12" stroke-width="1.0"/>
<rect x="645.46" y="224.31" width="6.7" height="6.7" fill="none" stroke="#fb5c12" stroke-width="1.0"/>
<rect x="648.69" y="225.25" width="6.7" height="6.7" fill="none" stroke="#fb5c12" stroke-width="1.0"/>
<rect x="651.90" y="224.95" width="6.7" height="6.7" fill="none" stroke="#fb5c12" stroke-width="1.0"/>
<rect x="655.09" y="225.03" width="6.7" height="6.7" fill="none" stroke="#fb5c12" stroke-width="1.0"/>
<rect x="658.27" y="225.18" width="6.7" height="6.7" fill="none" stroke="#fb5c12" stroke-width="1.0"/>
<rect x="661.43" y="225.49" width="6.7" height="6.7" fill="none" stroke="#fb5c12" stroke-width="1.0"/>
<rect x="664.58" y="226.09" width="6.7" height="6.7" fill="none" stroke="#fb5c12" stroke-width="1.0"/>
<rect x="667.71" y="225.66" width="6.7" height="6.7" fill="none" stroke="#fb5c12" stroke-width="1.0"/>
<rect x="670.82" y="226.16" width="6.7" height="6.7" fill="none" stroke="#fb5c12" stroke-width="1.0"/>
<rect x="673.92" y="226.35" width="6.7" height="6.7" fill="none" stroke="#fb5c12" stroke-width="1.0"/>
<rect x="677.00" y="226.25" width="6.7" height="6.7" fill="none" stroke="#fb5c12" stroke-width="1.0"/>
<rect x="680.06" y="226.50" width="6.7" height="6.7" fill="none" stroke="#fb5c12" stroke-width="1.0"/>
<rect x="683.11" y="226.15" width="6.7" height="6.7" fill="none" stroke="#fb5c12" stroke-width="1.0"/>
<rect x="686.14" y="226.24" width="6.7" height="6.7" fill="none" stroke="#fb5c12" stroke-width="1.0"/>
<rect x="689.16" y="226.46" width="6.7" height="6.7" fill="none" stroke="#fb5c12" stroke-width="1.0"/>
<rect x="692.16" y="226.98" width="6.7" height="6.7" fill="none" stroke="#fb5c12" stroke-width="1.0"/>
<rect x="695.15" y="226.84" width="6.7" height="6.7" fill="none" stroke="#fb5c12" stroke-width="1.0"/>
<rect x="698.12" y="226.80" width="6.7" height="6.7" fill="none" stroke="#fb5c12" stroke-width="1.0"/>
<rect x="701.07" y="227.07" width="6.7" height="6.7" fill="none" stroke="#fb5c12" stroke-width="1.0"/>
<rect x="704.01" y="226.98" width="6.7" height="6.7" fill="none" stroke="#fb5c12" stroke-width="1.0"/>
<rect x="706.94" y="226.87" width="6.7" height="6.7" fill="none" stroke="#fb5c12" stroke-width="1.0"/>
<rect x="709.85" y="227.35" width="6.7" height="6.7" fill="none" stroke="#fb5c12" stroke-width="1.0"/>
<rect x="712.74" y="227.29" width="6.7" height="6.7" fill="none" stroke="#fb5c12" stroke-width="1.0"/>
<rect x="715.62" y="226.91" width="6.7" height="6.7" fill="none" stroke="#fb5c12" stroke-width="1.0"/>
<rect x="718.48" y="227.21" width="6.7" height="6.7" fill="none" stroke="#fb5c12" stroke-width="1.0"/>
<rect x="721.33" y="227.15" width="6.7" height="6.7" fill="none" stroke="#fb5c12" stroke-width="1.0"/>
<rect x="724.17" y="227.46" width="6.7" height="6.7" fill="none" stroke="#fb5c12" stroke-width="1.0"/>
<rect x="726.99" y="227.32" width="6.7" height="6.7" fill="none" stroke="#fb5c12" stroke-width="1.0"/>
<rect x="729.79" y="226.91" width="6.7" height="6.7" fill="none" stroke="#fb5c12" stroke-width="1.0"/>
<rect x="732.58" y="227.52" width="6.7" height="6.7" fill="none" stroke="#fb5c12" stroke-width="1.0"/>
<rect x="735.36" y="226.73" width="6.7" height="6.7" fill="none" stroke="#fb5c12" stroke-width="1.0"/>
<rect x="738.12" y="226.99" width="6.7" height="6.7" fill="none" stroke="#fb5c12" stroke-width="1.0"/>
<rect x="740.87" y="227.28" width="6.7" height="6.7" fill="none" stroke="#fb5c12" stroke-width="1.0"/>
<rect x="743.60" y="226.69" width="6.7" height="6.7" fill="none" stroke="#fb5c12" stroke-width="1.0"/>
<rect x="746.32" y="226.93" width="6.7" height="6.7" fill="none" stroke="#fb5c12" stroke-width="1.0"/>
<rect x="749.03" y="226.46" width="6.7" height="6.7" fill="none" stroke="#fb5c12" stroke-width="1.0"/>
<rect x="751.72" y="226.96" width="6.7" height="6.7" fill="none" stroke="#fb5c12" stroke-width="1.0"/>
<rect x="754.40" y="226.99" width="6.7" height="6.7" fill="none" stroke="#fb5c12" stroke-width="1.0"/>
<rect x="757.06" y="226.75" width="6.7" height="6.7" fill="none" stroke="#fb5c12" stroke-width="1.0"/>
<rect x="759.71" y="226.96" width="6.7" height="6.7" fill="none" stroke="#fb5c12" stroke-width="1.0"/>
<rect x="762.35" y="226.40" width="6.7" height="6.7" fill="none" stroke="#fb5c12" stroke-width="1.0"/>
<rect x="764.97" y="226.68" width="6.7" height="6.7" fill="none" stroke="#fb5c12" stroke-width="1.0"/>
<path d="M133.10 359.70L140.30 359.70L136.70 352.50Z" fill="none" stroke="#0a0aff" stroke-width="1.0" stroke-linejoin="miter"/>
<path d="M137.20 360.50L144.40 360.50L140.80 353.30Z" fill="none" stroke="#0a0aff" stroke-width="1.0" stroke-linejoin="miter"/>
<path d="M145.40 364.20L152.60 364.20L149.00 357.00Z" fill="none" stroke="#0a0aff" stroke-width="1.0" stroke-linejoin="miter"/>
<path d="M149.90 365.70L157.10 365.70L153.50 358.50Z" fill="none" stroke="#0a0aff" stroke-width="1.0" stroke-linejoin="miter"/>
<path d="M151.80 367.30L159.00 367.30L155.40 360.10Z" fill="none" stroke="#0a0aff" stroke-width="1.0" stroke-linejoin="miter"/>
<path d="M155.00 368.40L162.20 368.40L158.60 361.20Z" fill="none" stroke="#0a0aff" stroke-width="1.0" stroke-linejoin="miter"/>
<path d="M159.70 369.20L166.90 369.20L163.30 362.00Z" fill="none" stroke="#0a0aff" stroke-width="1.0" stroke-linejoin="miter"/>
<path d="M163.70 370.00L170.90 370.00L167.30 362.80Z" fill="none" stroke="#0a0aff" stroke-width="1.0" stroke-linejoin="miter"/>
<path d="M168.50 371.60L175.70 371.60L172.10 364.40Z" fill="none" stroke="#0a0aff" stroke-width="1.0" stroke-linejoin="miter"/>
<path d="M173.70 373.20L180.90 373.20L177.30 366.00Z" fill="none" stroke="#0a0aff" stroke-width="1.0" stroke-linejoin="miter"/>
<path d="M181.20 374.80L188.40 374.80L184.80 367.60Z" fill="none" stroke="#0a0aff" stroke-width="1.0" stroke-linejoin="miter"/>
<path d="M185.90 375.60L193.10 375.60L189.50 368.40Z" fill="none" stroke="#0a0aff" stroke-width="1.0" stroke-linejoin="miter"/>
<path d="M186.70 376.90L193.90 376.90L190.30 369.70Z" fill="none" stroke="#0a0aff" stroke-width="1.0" stroke-linejoin="miter"/>
<path d="M191.50 377.20L198.70 377.20L195.10 370.00Z" fill="none" stroke="#0a0aff" stroke-width="1.0" stroke-linejoin="miter"/>
<path d="M197.00 378.40L204.20 378.40L200.60 371.20Z" fill="none" stroke="#0a0aff" stroke-width="1.0" stroke-linejoin="miter"/>
<path d="M201.00 378.80L208.20 378.80L204.60 371.60Z" fill="none" stroke="#0a0aff" stroke-width="1.0" stroke-linejoin="miter"/>
<path d="M205.00 379.20L212.20 379.20L208.60 372.00Z" fill="none" stroke="#0a0aff" stroke-width="1.0" stroke-linejoin="miter"/>
<path d="M208.10 379.20L215.30 379.20L211.70 372.00Z" fill="none" stroke="#0a0aff" stroke-width="1.0" stroke-linejoin="miter"/>
<path d="M212.10 379.60L219.30 379.60L215.70 372.40Z" fill="none" stroke="#0a0aff" stroke-width="1.0" stroke-linejoin="miter"/>
<path d="M225.60 380.30L232.80 380.30L229.20 373.10Z" fill="none" stroke="#0a0aff" stroke-width="1.0" stroke-linejoin="miter"/>
<path d="M231.20 380.80L238.40 380.80L234.80 373.60Z" fill="none" stroke="#0a0aff" stroke-width="1.0" stroke-linejoin="miter"/>
<path d="M235.90 380.30L243.10 380.30L239.50 373.10Z" fill="none" stroke="#0a0aff" stroke-width="1.0" stroke-linejoin="miter"/>
<path d="M243.10 380.30L250.30 380.30L246.70 373.10Z" fill="none" stroke="#0a0aff" stroke-width="1.0" stroke-linejoin="miter"/>
<path d="M246.20 380.80L253.40 380.80L249.80 373.60Z" fill="none" stroke="#0a0aff" stroke-width="1.0" stroke-linejoin="miter"/>
<path d="M249.40 380.80L256.60 380.80L253.00 373.60Z" fill="none" stroke="#0a0aff" stroke-width="1.0" stroke-linejoin="miter"/>
<path d="M253.40 381.10L260.60 381.10L257.00 373.90Z" fill="none" stroke="#0a0aff" stroke-width="1.0" stroke-linejoin="miter"/>
<path d="M258.10 382.30L265.30 382.30L261.70 375.10Z" fill="none" stroke="#0a0aff" stroke-width="1.0" stroke-linejoin="miter"/>
<path d="M261.30 382.30L268.50 382.30L264.90 375.10Z" fill="none" stroke="#0a0aff" stroke-width="1.0" stroke-linejoin="miter"/>
<path d="M264.50 382.70L271.70 382.70L268.10 375.50Z" fill="none" stroke="#0a0aff" stroke-width="1.0" stroke-linejoin="miter"/>
<path d="M314.70 377.40L321.90 377.40L318.30 370.20Z" fill="none" stroke="#0a0aff" stroke-width="1.0" stroke-linejoin="miter"/>
<path d="M318.80 379.00L326.00 379.00L322.40 371.80Z" fill="none" stroke="#0a0aff" stroke-width="1.0" stroke-linejoin="miter"/>
<path d="M326.20 376.60L333.40 376.60L329.80 369.40Z" fill="none" stroke="#0a0aff" stroke-width="1.0" stroke-linejoin="miter"/>
<path d="M332.00 376.60L339.20 376.60L335.60 369.40Z" fill="none" stroke="#0a0aff" stroke-width="1.0" stroke-linejoin="miter"/>
<path d="M336.10 373.30L343.30 373.30L339.70 366.10Z" fill="none" stroke="#0a0aff" stroke-width="1.0" stroke-linejoin="miter"/>
<path d="M336.90 377.40L344.10 377.40L340.50 370.20Z" fill="none" stroke="#0a0aff" stroke-width="1.0" stroke-linejoin="miter"/>
<path d="M340.20 375.70L347.40 375.70L343.80 368.50Z" fill="none" stroke="#0a0aff" stroke-width="1.0" stroke-linejoin="miter"/>
<path d="M343.50 374.90L350.70 374.90L347.10 367.70Z" fill="none" stroke="#0a0aff" stroke-width="1.0" stroke-linejoin="miter"/>
<path d="M348.40 374.10L355.60 374.10L352.00 366.90Z" fill="none" stroke="#0a0aff" stroke-width="1.0" stroke-linejoin="miter"/>
<path d="M351.70 374.90L358.90 374.90L355.30 367.70Z" fill="none" stroke="#0a0aff" stroke-width="1.0" stroke-linejoin="miter"/>
<path d="M336.90 383.10L344.10 383.10L340.50 375.90Z" fill="none" stroke="#0a0aff" stroke-width="1.0" stroke-linejoin="miter"/>
<path d="M333.60 381.50L340.80 381.50L337.20 374.30Z" fill="none" stroke="#0a0aff" stroke-width="1.0" stroke-linejoin="miter"/>
<path d="M343.50 379.00L350.70 379.00L347.10 371.80Z" fill="none" stroke="#0a0aff" stroke-width="1.0" stroke-linejoin="miter"/>
<path d="M359.10 374.10L366.30 374.10L362.70 366.90Z" fill="none" stroke="#0a0aff" stroke-width="1.0" stroke-linejoin="miter"/>
<path d="M361.60 372.40L368.80 372.40L365.20 365.20Z" fill="none" stroke="#0a0aff" stroke-width="1.0" stroke-linejoin="miter"/>
<path d="M364.90 375.70L372.10 375.70L368.50 368.50Z" fill="none" stroke="#0a0aff" stroke-width="1.0" stroke-linejoin="miter"/>
<path d="M368.20 374.10L375.40 374.10L371.80 366.90Z" fill="none" stroke="#0a0aff" stroke-width="1.0" stroke-linejoin="miter"/>
<path d="M373.90 374.90L381.10 374.90L377.50 367.70Z" fill="none" stroke="#0a0aff" stroke-width="1.0" stroke-linejoin="miter"/>
<path d="M378.00 374.10L385.20 374.10L381.60 366.90Z" fill="none" stroke="#0a0aff" stroke-width="1.0" stroke-linejoin="miter"/>
<path d="M381.30 373.30L388.50 373.30L384.90 366.10Z" fill="none" stroke="#0a0aff" stroke-width="1.0" stroke-linejoin="miter"/>
<path d="M135.20 360.90L142.40 360.90L138.80 353.70Z" fill="none" stroke="#0a0aff" stroke-width="1.0" stroke-linejoin="miter"/>
<path d="M147.70 365.00L154.90 365.00L151.30 357.80Z" fill="none" stroke="#0a0aff" stroke-width="1.0" stroke-linejoin="miter"/>
<path d="M153.30 367.00L160.50 367.00L156.90 359.80Z" fill="none" stroke="#0a0aff" stroke-width="1.0" stroke-linejoin="miter"/>
<path d="M131.30 361.20L138.50 361.20L134.90 354.00Z" fill="none" stroke="#0a0aff" stroke-width="1.0" stroke-linejoin="miter"/>
<path d="M252.40 382.35L259.60 382.35L256.00 375.15Z" fill="none" stroke="#0a0aff" stroke-width="1.0" stroke-linejoin="miter"/>
<path d="M255.64 382.42L262.84 382.42L259.24 375.22Z" fill="none" stroke="#0a0aff" stroke-width="1.0" stroke-linejoin="miter"/>
<path d="M259.36 384.25L266.56 384.25L262.96 377.05Z" fill="none" stroke="#0a0aff" stroke-width="1.0" stroke-linejoin="miter"/>
<path d="M262.41 384.13L269.61 384.13L266.01 376.93Z" fill="none" stroke="#0a0aff" stroke-width="1.0" stroke-linejoin="miter"/>
<path d="M264.72 384.69L271.92 384.69L268.32 377.49Z" fill="none" stroke="#0a0aff" stroke-width="1.0" stroke-linejoin="miter"/>
<path d="M268.08 385.85L275.28 385.85L271.68 378.65Z" fill="none" stroke="#0a0aff" stroke-width="1.0" stroke-linejoin="miter"/>
<path d="M271.76 384.15L278.96 384.15L275.36 376.95Z" fill="none" stroke="#0a0aff" stroke-width="1.0" stroke-linejoin="miter"/>
<path d="M273.40 385.22L280.60 385.22L277.00 378.02Z" fill="none" stroke="#0a0aff" stroke-width="1.0" stroke-linejoin="miter"/>
<path d="M274.53 384.73L281.73 384.73L278.13 377.53Z" fill="none" stroke="#0a0aff" stroke-width="1.0" stroke-linejoin="miter"/>
<path d="M275.87 383.88L283.07 383.88L279.47 376.68Z" fill="none" stroke="#0a0aff" stroke-width="1.0" stroke-linejoin="miter"/>
<path d="M277.05 385.62L284.25 385.62L280.65 378.42Z" fill="none" stroke="#0a0aff" stroke-width="1.0" stroke-linejoin="miter"/>
<path d="M278.33 384.32L285.53 384.32L281.93 377.12Z" fill="none" stroke="#0a0aff" stroke-width="1.0" stroke-linejoin="miter"/>
<path d="M279.98 386.01L287.18 386.01L283.58 378.81Z" fill="none" stroke="#0a0aff" stroke-width="1.0" stroke-linejoin="miter"/>
<path d="M281.19 384.96L288.39 384.96L284.79 377.76Z" fill="none" stroke="#0a0aff" stroke-width="1.0" stroke-linejoin="miter"/>
<path d="M283.06 386.07L290.26 386.07L286.66 378.87Z" fill="none" stroke="#0a0aff" stroke-width="1.0" stroke-linejoin="miter"/>
<path d="M285.31 385.99L292.51 385.99L288.91 378.79Z" fill="none" stroke="#0a0aff" stroke-width="1.0" stroke-linejoin="miter"/>
<path d="M286.80 384.81L294.00 384.81L290.40 377.61Z" fill="none" stroke="#0a0aff" stroke-width="1.0" stroke-linejoin="miter"/>
<path d="M288.40 386.01L295.60 386.01L292.00 378.81Z" fill="none" stroke="#0a0aff" stroke-width="1.0" stroke-linejoin="miter"/>
<path d="M290.84 384.07L298.04 384.07L294.44 376.87Z" fill="none" stroke="#0a0aff" stroke-width="1.0" stroke-linejoin="miter"/>
<path d="M292.19 384.26L299.39 384.26L295.79 377.06Z" fill="none" stroke="#0a0aff" stroke-width="1.0" stroke-linejoin="miter"/>
<path d="M293.62 384.90L300.82 384.90L297.22 377.70Z" fill="none" stroke="#0a0aff" stroke-width="1.0" stroke-linejoin="miter"/>
<path d="M295.54 384.29L302.74 384.29L299.14 377.09Z" fill="none" stroke="#0a0aff" stroke-width="1.0" stroke-linejoin="miter"/>
<path d="M296.65 384.67L303.85 384.67L300.25 377.47Z" fill="none" stroke="#0a0aff" stroke-width="1.0" stroke-linejoin="miter"/>
<path d="M298.26 384.95L305.46 384.95L301.86 377.75Z" fill="none" stroke="#0a0aff" stroke-width="1.0" stroke-linejoin="miter"/>
<path d="M300.70 385.11L307.90 385.11L304.30 377.91Z" fill="none" stroke="#0a0aff" stroke-width="1.0" stroke-linejoin="miter"/>
<path d="M302.52 384.80L309.72 384.80L306.12 377.60Z" fill="none" stroke="#0a0aff" stroke-width="1.0" stroke-linejoin="miter"/>
<path d="M304.57 383.20L311.77 383.20L308.17 376.00Z" fill="none" stroke="#0a0aff" stroke-width="1.0" stroke-linejoin="miter"/>
<path d="M306.93 384.93L314.13 384.93L310.53 377.73Z" fill="none" stroke="#0a0aff" stroke-width="1.0" stroke-linejoin="miter"/>
<path d="M309.25 384.79L316.45 384.79L312.85 377.59Z" fill="none" stroke="#0a0aff" stroke-width="1.0" stroke-linejoin="miter"/>
<path d="M310.90 383.59L318.10 383.59L314.50 376.39Z" fill="none" stroke="#0a0aff" stroke-width="1.0" stroke-linejoin="miter"/>
<path d="M312.14 384.07L319.34 384.07L315.74 376.87Z" fill="none" stroke="#0a0aff" stroke-width="1.0" stroke-linejoin="miter"/>
<path d="M313.33 382.48L320.53 382.48L316.93 375.28Z" fill="none" stroke="#0a0aff" stroke-width="1.0" stroke-linejoin="miter"/>
<path d="M314.72 382.59L321.92 382.59L318.32 375.39Z" fill="none" stroke="#0a0aff" stroke-width="1.0" stroke-linejoin="miter"/>
<path d="M316.30 382.15L323.50 382.15L319.90 374.95Z" fill="none" stroke="#0a0aff" stroke-width="1.0" stroke-linejoin="miter"/>
<path d="M317.40 382.29L324.60 382.29L321.00 375.09Z" fill="none" stroke="#0a0aff" stroke-width="1.0" stroke-linejoin="miter"/>
<path d="M318.64 382.72L325.84 382.72L322.24 375.52Z" fill="none" stroke="#0a0aff" stroke-width="1.0" stroke-linejoin="miter"/>
<path d="M319.78 383.94L326.98 383.94L323.38 376.74Z" fill="none" stroke="#0a0aff" stroke-width="1.0" stroke-linejoin="miter"/>
<path d="M321.74 381.85L328.94 381.85L325.34 374.65Z" fill="none" stroke="#0a0aff" stroke-width="1.0" stroke-linejoin="miter"/>
<path d="M323.19 382.22L330.39 382.22L326.79 375.02Z" fill="none" stroke="#0a0aff" stroke-width="1.0" stroke-linejoin="miter"/>
<path d="M324.80 381.48L332.00 381.48L328.40 374.28Z" fill="none" stroke="#0a0aff" stroke-width="1.0" stroke-linejoin="miter"/>
<path d="M327.09 383.51L334.29 383.51L330.69 376.31Z" fill="none" stroke="#0a0aff" stroke-width="1.0" stroke-linejoin="miter"/>
<path d="M325.40 379.50L332.60 379.50L329.00 372.30Z" fill="none" stroke="#0a0aff" stroke-width="1.0" stroke-linejoin="miter"/>
<path d="M326.28 376.03L333.48 376.03L329.88 368.83Z" fill="none" stroke="#0a0aff" stroke-width="1.0" stroke-linejoin="miter"/>
<path d="M327.39 377.51L334.59 377.51L330.99 370.31Z" fill="none" stroke="#0a0aff" stroke-width="1.0" stroke-linejoin="miter"/>
<path d="M328.93 376.57L336.13 376.57L332.53 369.37Z" fill="none" stroke="#0a0aff" stroke-width="1.0" stroke-linejoin="miter"/>
<path d="M329.75 383.75L336.95 383.75L333.35 376.55Z" fill="none" stroke="#0a0aff" stroke-width="1.0" stroke-linejoin="miter"/>
<path d="M331.03 376.43L338.23 376.43L334.63 369.23Z" fill="none" stroke="#0a0aff" stroke-width="1.0" stroke-linejoin="miter"/>
<path d="M332.32 375.35L339.52 375.35L335.92 368.15Z" fill="none" stroke="#0a0aff" stroke-width="1.0" stroke-linejoin="miter"/>
<path d="M333.59 384.00L340.79 384.00L337.19 376.80Z" fill="none" stroke="#0a0aff" stroke-width="1.0" stroke-linejoin="miter"/>
<path d="M335.17 381.44L342.37 381.44L338.77 374.24Z" fill="none" stroke="#0a0aff" stroke-width="1.0" stroke-linejoin="miter"/>
<path d="M336.20 378.44L343.40 378.44L339.80 371.24Z" fill="none" stroke="#0a0aff" stroke-width="1.0" stroke-linejoin="miter"/>
<path d="M337.15 382.12L344.35 382.12L340.75 374.92Z" fill="none" stroke="#0a0aff" stroke-width="1.0" stroke-linejoin="miter"/>
<path d="M338.43 382.19L345.63 382.19L342.03 374.99Z" fill="none" stroke="#0a0aff" stroke-width="1.0" stroke-linejoin="miter"/>
<path d="M339.53 377.13L346.73 377.13L343.13 369.93Z" fill="none" stroke="#0a0aff" stroke-width="1.0" stroke-linejoin="miter"/>
<path d="M341.06 384.06L348.26 384.06L344.66 376.86Z" fill="none" stroke="#0a0aff" stroke-width="1.0" stroke-linejoin="miter"/>
<path d="M342.63 382.44L349.83 382.44L346.23 375.24Z" fill="none" stroke="#0a0aff" stroke-width="1.0" stroke-linejoin="miter"/>
<path d="M344.16 381.83L351.36 381.83L347.76 374.63Z" fill="none" stroke="#0a0aff" stroke-width="1.0" stroke-linejoin="miter"/>
<path d="M345.17 379.81L352.37 379.81L348.77 372.61Z" fill="none" stroke="#0a0aff" stroke-width="1.0" stroke-linejoin="miter"/>
<path d="M346.29 375.36L353.49 375.36L349.89 368.16Z" fill="none" stroke="#0a0aff" stroke-width="1.0" stroke-linejoin="miter"/>
<path d="M347.11 377.64L354.31 377.64L350.71 370.44Z" fill="none" stroke="#0a0aff" stroke-width="1.0" stroke-linejoin="miter"/>
<path d="M348.15 381.40L355.35 381.40L351.75 374.20Z" fill="none" stroke="#0a0aff" stroke-width="1.0" stroke-linejoin="miter"/>
<line x1="396.00" y1="354.80" x2="800.00" y2="404.60" stroke="#1414d2" stroke-width="1.35" />
<path d="M398.10 358.60L405.30 358.60L401.70 351.40Z" fill="none" stroke="#0a0aff" stroke-width="1.0" stroke-linejoin="miter"/>
<path d="M408.80 359.80L416.00 359.80L412.40 352.60Z" fill="none" stroke="#0a0aff" stroke-width="1.0" stroke-linejoin="miter"/>
<path d="M421.80 359.80L429.00 359.80L425.40 352.60Z" fill="none" stroke="#0a0aff" stroke-width="1.0" stroke-linejoin="miter"/>
<path d="M433.30 362.30L440.50 362.30L436.90 355.10Z" fill="none" stroke="#0a0aff" stroke-width="1.0" stroke-linejoin="miter"/>
<path d="M443.70 363.60L450.90 363.60L447.30 356.40Z" fill="none" stroke="#0a0aff" stroke-width="1.0" stroke-linejoin="miter"/>
<path d="M454.20 365.60L461.40 365.60L457.80 358.40Z" fill="none" stroke="#0a0aff" stroke-width="1.0" stroke-linejoin="miter"/>
<path d="M464.90 366.10L472.10 366.10L468.50 358.90Z" fill="none" stroke="#0a0aff" stroke-width="1.0" stroke-linejoin="miter"/>
<path d="M474.90 367.30L482.10 367.30L478.50 360.10Z" fill="none" stroke="#0a0aff" stroke-width="1.0" stroke-linejoin="miter"/>
<path d="M483.60 368.50L490.80 368.50L487.20 361.30Z" fill="none" stroke="#0a0aff" stroke-width="1.0" stroke-linejoin="miter"/>
<path d="M493.10 369.80L500.30 369.80L496.70 362.60Z" fill="none" stroke="#0a0aff" stroke-width="1.0" stroke-linejoin="miter"/>
<path d="M501.60 370.50L508.80 370.50L505.20 363.30Z" fill="none" stroke="#0a0aff" stroke-width="1.0" stroke-linejoin="miter"/>
<path d="M509.80 372.10L517.00 372.10L513.40 364.90Z" fill="none" stroke="#0a0aff" stroke-width="1.0" stroke-linejoin="miter"/>
<path d="M517.80 373.00L525.00 373.00L521.40 365.80Z" fill="none" stroke="#0a0aff" stroke-width="1.0" stroke-linejoin="miter"/>
<path d="M525.50 374.00L532.70 374.00L529.10 366.80Z" fill="none" stroke="#0a0aff" stroke-width="1.0" stroke-linejoin="miter"/>
<path d="M532.30 374.80L539.50 374.80L535.90 367.60Z" fill="none" stroke="#0a0aff" stroke-width="1.0" stroke-linejoin="miter"/>
<path d="M539.00 375.50L546.20 375.50L542.60 368.30Z" fill="none" stroke="#0a0aff" stroke-width="1.0" stroke-linejoin="miter"/>
<path d="M546.00 376.20L553.20 376.20L549.60 369.00Z" fill="none" stroke="#0a0aff" stroke-width="1.0" stroke-linejoin="miter"/>
<path d="M552.20 377.20L559.40 377.20L555.80 370.00Z" fill="none" stroke="#0a0aff" stroke-width="1.0" stroke-linejoin="miter"/>
<path d="M558.00 377.90L565.20 377.90L561.60 370.70Z" fill="none" stroke="#0a0aff" stroke-width="1.0" stroke-linejoin="miter"/>
<path d="M564.70 378.20L571.90 378.20L568.30 371.00Z" fill="none" stroke="#0a0aff" stroke-width="1.0" stroke-linejoin="miter"/>
<path d="M569.70 378.90L576.90 378.90L573.30 371.70Z" fill="none" stroke="#0a0aff" stroke-width="1.0" stroke-linejoin="miter"/>
<path d="M574.70 379.30L581.90 379.30L578.30 372.10Z" fill="none" stroke="#0a0aff" stroke-width="1.0" stroke-linejoin="miter"/>
<path d="M579.70 379.50L586.90 379.50L583.30 372.30Z" fill="none" stroke="#0a0aff" stroke-width="1.0" stroke-linejoin="miter"/>
<path d="M584.40 379.87L591.60 379.87L588.00 372.67Z" fill="none" stroke="#0a0aff" stroke-width="1.0" stroke-linejoin="miter"/>
<path d="M588.70 380.39L595.90 380.39L592.30 373.19Z" fill="none" stroke="#0a0aff" stroke-width="1.0" stroke-linejoin="miter"/>
<path d="M592.91 380.65L600.11 380.65L596.51 373.45Z" fill="none" stroke="#0a0aff" stroke-width="1.0" stroke-linejoin="miter"/>
<path d="M597.02 380.84L604.22 380.84L600.62 373.64Z" fill="none" stroke="#0a0aff" stroke-width="1.0" stroke-linejoin="miter"/>
<path d="M601.05 380.50L608.25 380.50L604.65 373.30Z" fill="none" stroke="#0a0aff" stroke-width="1.0" stroke-linejoin="miter"/>
<path d="M604.99 380.49L612.19 380.49L608.59 373.29Z" fill="none" stroke="#0a0aff" stroke-width="1.0" stroke-linejoin="miter"/>
<path d="M608.84 380.62L616.04 380.62L612.44 373.42Z" fill="none" stroke="#0a0aff" stroke-width="1.0" stroke-linejoin="miter"/>
<path d="M612.61 380.71L619.81 380.71L616.21 373.51Z" fill="none" stroke="#0a0aff" stroke-width="1.0" stroke-linejoin="miter"/>
<path d="M616.30 380.84L623.50 380.84L619.90 373.64Z" fill="none" stroke="#0a0aff" stroke-width="1.0" stroke-linejoin="miter"/>
<path d="M619.91 381.66L627.11 381.66L623.51 374.46Z" fill="none" stroke="#0a0aff" stroke-width="1.0" stroke-linejoin="miter"/>
<path d="M623.44 382.33L630.64 382.33L627.04 375.13Z" fill="none" stroke="#0a0aff" stroke-width="1.0" stroke-linejoin="miter"/>
<path d="M626.89 382.57L634.09 382.57L630.49 375.37Z" fill="none" stroke="#0a0aff" stroke-width="1.0" stroke-linejoin="miter"/>
<path d="M630.27 382.35L637.47 382.35L633.87 375.15Z" fill="none" stroke="#0a0aff" stroke-width="1.0" stroke-linejoin="miter"/>
<path d="M633.57 382.89L640.77 382.89L637.17 375.69Z" fill="none" stroke="#0a0aff" stroke-width="1.0" stroke-linejoin="miter"/>
<path d="M636.80 383.40L644.00 383.40L640.40 376.20Z" fill="none" stroke="#0a0aff" stroke-width="1.0" stroke-linejoin="miter"/>
<path d="M639.97 382.45L647.17 382.45L643.57 375.25Z" fill="none" stroke="#0a0aff" stroke-width="1.0" stroke-linejoin="miter"/>
<path d="M643.06 383.61L650.26 383.61L646.66 376.41Z" fill="none" stroke="#0a0aff" stroke-width="1.0" stroke-linejoin="miter"/>
<path d="M646.09 384.25L653.29 384.25L649.69 377.05Z" fill="none" stroke="#0a0aff" stroke-width="1.0" stroke-linejoin="miter"/>
<path d="M649.05 384.24L656.25 384.24L652.65 377.04Z" fill="none" stroke="#0a0aff" stroke-width="1.0" stroke-linejoin="miter"/>
<path d="M651.95 384.38L659.15 384.38L655.55 377.18Z" fill="none" stroke="#0a0aff" stroke-width="1.0" stroke-linejoin="miter"/>
<path d="M654.78 384.05L661.98 384.05L658.38 376.85Z" fill="none" stroke="#0a0aff" stroke-width="1.0" stroke-linejoin="miter"/>
<path d="M657.55 383.59L664.75 383.59L661.15 376.39Z" fill="none" stroke="#0a0aff" stroke-width="1.0" stroke-linejoin="miter"/>
<path d="M660.27 384.88L667.47 384.88L663.87 377.68Z" fill="none" stroke="#0a0aff" stroke-width="1.0" stroke-linejoin="miter"/>
<path d="M662.92 384.01L670.12 384.01L666.52 376.81Z" fill="none" stroke="#0a0aff" stroke-width="1.0" stroke-linejoin="miter"/>
<path d="M665.52 385.07L672.72 385.07L669.12 377.87Z" fill="none" stroke="#0a0aff" stroke-width="1.0" stroke-linejoin="miter"/>
<path d="M668.06 385.52L675.26 385.52L671.66 378.32Z" fill="none" stroke="#0a0aff" stroke-width="1.0" stroke-linejoin="miter"/>
<path d="M670.54 384.32L677.74 384.32L674.14 377.12Z" fill="none" stroke="#0a0aff" stroke-width="1.0" stroke-linejoin="miter"/>
<path d="M672.97 384.39L680.17 384.39L676.57 377.19Z" fill="none" stroke="#0a0aff" stroke-width="1.0" stroke-linejoin="miter"/>
<path d="M675.35 385.71L682.55 385.71L678.95 378.51Z" fill="none" stroke="#0a0aff" stroke-width="1.0" stroke-linejoin="miter"/>
<path d="M677.68 385.20L684.88 385.20L681.28 378.00Z" fill="none" stroke="#0a0aff" stroke-width="1.0" stroke-linejoin="miter"/>
<path d="M679.95 383.82L687.15 383.82L683.55 376.62Z" fill="none" stroke="#0a0aff" stroke-width="1.0" stroke-linejoin="miter"/>
<path d="M682.18 383.64L689.38 383.64L685.78 376.44Z" fill="none" stroke="#0a0aff" stroke-width="1.0" stroke-linejoin="miter"/>
<path d="M684.36 383.63L691.56 383.63L687.96 376.43Z" fill="none" stroke="#0a0aff" stroke-width="1.0" stroke-linejoin="miter"/>
<path d="M686.49 385.47L693.69 385.47L690.09 378.27Z" fill="none" stroke="#0a0aff" stroke-width="1.0" stroke-linejoin="miter"/>
<path d="M688.57 385.18L695.77 385.18L692.17 377.98Z" fill="none" stroke="#0a0aff" stroke-width="1.0" stroke-linejoin="miter"/>
<path d="M690.61 383.42L697.81 383.42L694.21 376.22Z" fill="none" stroke="#0a0aff" stroke-width="1.0" stroke-linejoin="miter"/>
<path d="M692.61 385.16L699.81 385.16L696.21 377.96Z" fill="none" stroke="#0a0aff" stroke-width="1.0" stroke-linejoin="miter"/>
<path d="M694.56 385.53L701.76 385.53L698.16 378.33Z" fill="none" stroke="#0a0aff" stroke-width="1.0" stroke-linejoin="miter"/>
<path d="M696.47 384.62L703.67 384.62L700.07 377.42Z" fill="none" stroke="#0a0aff" stroke-width="1.0" stroke-linejoin="miter"/>
<path d="M698.34 383.66L705.54 383.66L701.94 376.46Z" fill="none" stroke="#0a0aff" stroke-width="1.0" stroke-linejoin="miter"/>
<path d="M700.17 384.09L707.37 384.09L703.77 376.89Z" fill="none" stroke="#0a0aff" stroke-width="1.0" stroke-linejoin="miter"/>
<path d="M701.96 382.80L709.16 382.80L705.56 375.60Z" fill="none" stroke="#0a0aff" stroke-width="1.0" stroke-linejoin="miter"/>
<path d="M703.70 382.34L710.90 382.34L707.30 375.14Z" fill="none" stroke="#0a0aff" stroke-width="1.0" stroke-linejoin="miter"/>
<path d="M705.42 384.97L712.62 384.97L709.02 377.77Z" fill="none" stroke="#0a0aff" stroke-width="1.0" stroke-linejoin="miter"/>
<path d="M707.09 383.94L714.29 383.94L710.69 376.74Z" fill="none" stroke="#0a0aff" stroke-width="1.0" stroke-linejoin="miter"/>
<path d="M708.73 383.48L715.93 383.48L712.33 376.28Z" fill="none" stroke="#0a0aff" stroke-width="1.0" stroke-linejoin="miter"/>
<path d="M710.33 384.59L717.53 384.59L713.93 377.39Z" fill="none" stroke="#0a0aff" stroke-width="1.0" stroke-linejoin="miter"/>
<path d="M711.90 382.99L719.10 382.99L715.50 375.79Z" fill="none" stroke="#0a0aff" stroke-width="1.0" stroke-linejoin="miter"/>
<path d="M713.43 384.22L720.63 384.22L717.03 377.02Z" fill="none" stroke="#0a0aff" stroke-width="1.0" stroke-linejoin="miter"/>
<path d="M714.93 383.99L722.13 383.99L718.53 376.79Z" fill="none" stroke="#0a0aff" stroke-width="1.0" stroke-linejoin="miter"/>
<path d="M716.40 382.01L723.60 382.01L720.00 374.81Z" fill="none" stroke="#0a0aff" stroke-width="1.0" stroke-linejoin="miter"/>
<path d="M717.84 382.01L725.04 382.01L721.44 374.81Z" fill="none" stroke="#0a0aff" stroke-width="1.0" stroke-linejoin="miter"/>
<path d="M719.24 382.02L726.44 382.02L722.84 374.82Z" fill="none" stroke="#0a0aff" stroke-width="1.0" stroke-linejoin="miter"/>
<path d="M720.61 381.74L727.81 381.74L724.21 374.54Z" fill="none" stroke="#0a0aff" stroke-width="1.0" stroke-linejoin="miter"/>
<path d="M721.96 382.73L729.16 382.73L725.56 375.53Z" fill="none" stroke="#0a0aff" stroke-width="1.0" stroke-linejoin="miter"/>
<path d="M723.27 381.58L730.47 381.58L726.87 374.38Z" fill="none" stroke="#0a0aff" stroke-width="1.0" stroke-linejoin="miter"/>
<path d="M724.56 381.98L731.76 381.98L728.16 374.78Z" fill="none" stroke="#0a0aff" stroke-width="1.0" stroke-linejoin="miter"/>
<path d="M725.82 380.94L733.02 380.94L729.42 373.74Z" fill="none" stroke="#0a0aff" stroke-width="1.0" stroke-linejoin="miter"/>
<path d="M727.05 383.40L734.25 383.40L730.65 376.20Z" fill="none" stroke="#0a0aff" stroke-width="1.0" stroke-linejoin="miter"/>
<path d="M728.26 381.47L735.46 381.47L731.86 374.27Z" fill="none" stroke="#0a0aff" stroke-width="1.0" stroke-linejoin="miter"/>
<path d="M729.43 381.72L736.63 381.72L733.03 374.52Z" fill="none" stroke="#0a0aff" stroke-width="1.0" stroke-linejoin="miter"/>
<path d="M730.59 382.04L737.79 382.04L734.19 374.84Z" fill="none" stroke="#0a0aff" stroke-width="1.0" stroke-linejoin="miter"/>
<path d="M731.72 383.04L738.92 383.04L735.32 375.84Z" fill="none" stroke="#0a0aff" stroke-width="1.0" stroke-linejoin="miter"/>
<path d="M732.82 381.32L740.02 381.32L736.42 374.12Z" fill="none" stroke="#0a0aff" stroke-width="1.0" stroke-linejoin="miter"/>
<path d="M733.90 382.93L741.10 382.93L737.50 375.73Z" fill="none" stroke="#0a0aff" stroke-width="1.0" stroke-linejoin="miter"/>
<path d="M734.95 381.42L742.15 381.42L738.55 374.22Z" fill="none" stroke="#0a0aff" stroke-width="1.0" stroke-linejoin="miter"/>
<path d="M735.99 381.44L743.19 381.44L739.59 374.24Z" fill="none" stroke="#0a0aff" stroke-width="1.0" stroke-linejoin="miter"/>
<path d="M737.00 381.32L744.20 381.32L740.60 374.12Z" fill="none" stroke="#0a0aff" stroke-width="1.0" stroke-linejoin="miter"/>
<path d="M737.99 379.47L745.19 379.47L741.59 372.27Z" fill="none" stroke="#0a0aff" stroke-width="1.0" stroke-linejoin="miter"/>
<path d="M738.95 380.85L746.15 380.85L742.55 373.65Z" fill="none" stroke="#0a0aff" stroke-width="1.0" stroke-linejoin="miter"/>
<path d="M739.90 379.85L747.10 379.85L743.50 372.65Z" fill="none" stroke="#0a0aff" stroke-width="1.0" stroke-linejoin="miter"/>
<path d="M740.83 379.12L748.03 379.12L744.43 371.92Z" fill="none" stroke="#0a0aff" stroke-width="1.0" stroke-linejoin="miter"/>
<path d="M741.73 381.86L748.93 381.86L745.33 374.66Z" fill="none" stroke="#0a0aff" stroke-width="1.0" stroke-linejoin="miter"/>
<path d="M742.62 379.53L749.82 379.53L746.22 372.33Z" fill="none" stroke="#0a0aff" stroke-width="1.0" stroke-linejoin="miter"/>
<path d="M743.49 380.53L750.69 380.53L747.09 373.33Z" fill="none" stroke="#0a0aff" stroke-width="1.0" stroke-linejoin="miter"/>
<path d="M744.34 381.36L751.54 381.36L747.94 374.16Z" fill="none" stroke="#0a0aff" stroke-width="1.0" stroke-linejoin="miter"/>
<path d="M745.19 380.67L752.39 380.67L748.79 373.47Z" fill="none" stroke="#0a0aff" stroke-width="1.0" stroke-linejoin="miter"/>
<path d="M746.04 379.75L753.24 379.75L749.64 372.55Z" fill="none" stroke="#0a0aff" stroke-width="1.0" stroke-linejoin="miter"/>
<path d="M746.89 380.37L754.09 380.37L750.49 373.17Z" fill="none" stroke="#0a0aff" stroke-width="1.0" stroke-linejoin="miter"/>
<path d="M747.74 380.43L754.94 380.43L751.34 373.23Z" fill="none" stroke="#0a0aff" stroke-width="1.0" stroke-linejoin="miter"/>
<path d="M748.59 381.19L755.79 381.19L752.19 373.99Z" fill="none" stroke="#0a0aff" stroke-width="1.0" stroke-linejoin="miter"/>
<path d="M749.44 378.60L756.64 378.60L753.04 371.40Z" fill="none" stroke="#0a0aff" stroke-width="1.0" stroke-linejoin="miter"/>
<path d="M750.29 380.21L757.49 380.21L753.89 373.01Z" fill="none" stroke="#0a0aff" stroke-width="1.0" stroke-linejoin="miter"/>
<path d="M751.14 378.96L758.34 378.96L754.74 371.76Z" fill="none" stroke="#0a0aff" stroke-width="1.0" stroke-linejoin="miter"/>
<path d="M751.99 378.98L759.19 378.98L755.59 371.78Z" fill="none" stroke="#0a0aff" stroke-width="1.0" stroke-linejoin="miter"/>
<path d="M752.84 380.77L760.04 380.77L756.44 373.57Z" fill="none" stroke="#0a0aff" stroke-width="1.0" stroke-linejoin="miter"/>
<path d="M753.69 379.69L760.89 379.69L757.29 372.49Z" fill="none" stroke="#0a0aff" stroke-width="1.0" stroke-linejoin="miter"/>
<path d="M754.54 379.81L761.74 379.81L758.14 372.61Z" fill="none" stroke="#0a0aff" stroke-width="1.0" stroke-linejoin="miter"/>
<path d="M755.39 380.49L762.59 380.49L758.99 373.29Z" fill="none" stroke="#0a0aff" stroke-width="1.0" stroke-linejoin="miter"/>
<path d="M756.24 381.00L763.44 381.00L759.84 373.80Z" fill="none" stroke="#0a0aff" stroke-width="1.0" stroke-linejoin="miter"/>
<path d="M757.09 379.09L764.29 379.09L760.69 371.89Z" fill="none" stroke="#0a0aff" stroke-width="1.0" stroke-linejoin="miter"/>
<path d="M757.94 379.64L765.14 379.64L761.54 372.44Z" fill="none" stroke="#0a0aff" stroke-width="1.0" stroke-linejoin="miter"/>
<path d="M758.79 379.11L765.99 379.11L762.39 371.91Z" fill="none" stroke="#0a0aff" stroke-width="1.0" stroke-linejoin="miter"/>
<path d="M759.64 379.03L766.84 379.03L763.24 371.83Z" fill="none" stroke="#0a0aff" stroke-width="1.0" stroke-linejoin="miter"/>
<path d="M760.49 379.62L767.69 379.62L764.09 372.42Z" fill="none" stroke="#0a0aff" stroke-width="1.0" stroke-linejoin="miter"/>
<path d="M761.34 378.57L768.54 378.57L764.94 371.37Z" fill="none" stroke="#0a0aff" stroke-width="1.0" stroke-linejoin="miter"/>
<path d="M762.19 378.78L769.39 378.78L765.79 371.58Z" fill="none" stroke="#0a0aff" stroke-width="1.0" stroke-linejoin="miter"/>
<path d="M763.04 378.45L770.24 378.45L766.64 371.25Z" fill="none" stroke="#0a0aff" stroke-width="1.0" stroke-linejoin="miter"/>
<path d="M763.89 380.19L771.09 380.19L767.49 372.99Z" fill="none" stroke="#0a0aff" stroke-width="1.0" stroke-linejoin="miter"/>
<path d="M764.74 379.11L771.94 379.11L768.34 371.91Z" fill="none" stroke="#0a0aff" stroke-width="1.0" stroke-linejoin="miter"/>
<path d="M765.59 379.72L772.79 379.72L769.19 372.52Z" fill="none" stroke="#0a0aff" stroke-width="1.0" stroke-linejoin="miter"/>
<path d="M766.44 379.88L773.64 379.88L770.04 372.68Z" fill="none" stroke="#0a0aff" stroke-width="1.0" stroke-linejoin="miter"/>
<path d="M767.29 377.01L774.49 377.01L770.89 369.81Z" fill="none" stroke="#0a0aff" stroke-width="1.0" stroke-linejoin="miter"/>
<path d="M768.14 378.12L775.34 378.12L771.74 370.92Z" fill="none" stroke="#0a0aff" stroke-width="1.0" stroke-linejoin="miter"/>
<path d="M768.99 379.57L776.19 379.57L772.59 372.37Z" fill="none" stroke="#0a0aff" stroke-width="1.0" stroke-linejoin="miter"/>
<path d="M769.84 379.05L777.04 379.05L773.44 371.85Z" fill="none" stroke="#0a0aff" stroke-width="1.0" stroke-linejoin="miter"/>
<path d="M770.69 376.05L777.89 376.05L774.29 368.85Z" fill="none" stroke="#0a0aff" stroke-width="1.0" stroke-linejoin="miter"/>
<path d="M771.54 375.87L778.74 375.87L775.14 368.67Z" fill="none" stroke="#0a0aff" stroke-width="1.0" stroke-linejoin="miter"/>
<path d="M772.39 377.08L779.59 377.08L775.99 369.88Z" fill="none" stroke="#0a0aff" stroke-width="1.0" stroke-linejoin="miter"/>
<path d="M773.24 375.43L780.44 375.43L776.84 368.23Z" fill="none" stroke="#0a0aff" stroke-width="1.0" stroke-linejoin="miter"/>
<path d="M774.09 376.02L781.29 376.02L777.69 368.82Z" fill="none" stroke="#0a0aff" stroke-width="1.0" stroke-linejoin="miter"/>
<path d="M774.94 375.20L782.14 375.20L778.54 368.00Z" fill="none" stroke="#0a0aff" stroke-width="1.0" stroke-linejoin="miter"/>
<path d="M775.79 377.59L782.99 377.59L779.39 370.39Z" fill="none" stroke="#0a0aff" stroke-width="1.0" stroke-linejoin="miter"/>
<path d="M776.64 377.97L783.84 377.97L780.24 370.77Z" fill="none" stroke="#0a0aff" stroke-width="1.0" stroke-linejoin="miter"/>
<path d="M777.49 378.34L784.69 378.34L781.09 371.14Z" fill="none" stroke="#0a0aff" stroke-width="1.0" stroke-linejoin="miter"/>
<path d="M778.34 375.08L785.54 375.08L781.94 367.88Z" fill="none" stroke="#0a0aff" stroke-width="1.0" stroke-linejoin="miter"/>
<path d="M779.19 377.36L786.39 377.36L782.79 370.16Z" fill="none" stroke="#0a0aff" stroke-width="1.0" stroke-linejoin="miter"/>
<path d="M780.04 377.01L787.24 377.01L783.64 369.81Z" fill="none" stroke="#0a0aff" stroke-width="1.0" stroke-linejoin="miter"/>
<path d="M780.89 374.68L788.09 374.68L784.49 367.48Z" fill="none" stroke="#0a0aff" stroke-width="1.0" stroke-linejoin="miter"/>
<path d="M781.74 377.76L788.94 377.76L785.34 370.56Z" fill="none" stroke="#0a0aff" stroke-width="1.0" stroke-linejoin="miter"/>
<path d="M782.59 378.02L789.79 378.02L786.19 370.82Z" fill="none" stroke="#0a0aff" stroke-width="1.0" stroke-linejoin="miter"/>
<path d="M783.44 374.66L790.64 374.66L787.04 367.46Z" fill="none" stroke="#0a0aff" stroke-width="1.0" stroke-linejoin="miter"/>
<path d="M784.29 377.75L791.49 377.75L787.89 370.55Z" fill="none" stroke="#0a0aff" stroke-width="1.0" stroke-linejoin="miter"/>
<path d="M785.14 375.22L792.34 375.22L788.74 368.02Z" fill="none" stroke="#0a0aff" stroke-width="1.0" stroke-linejoin="miter"/>
<path d="M785.99 375.50L793.19 375.50L789.59 368.30Z" fill="none" stroke="#0a0aff" stroke-width="1.0" stroke-linejoin="miter"/>
<path d="M786.84 377.61L794.04 377.61L790.44 370.41Z" fill="none" stroke="#0a0aff" stroke-width="1.0" stroke-linejoin="miter"/>
<path d="M787.69 376.81L794.89 376.81L791.29 369.61Z" fill="none" stroke="#0a0aff" stroke-width="1.0" stroke-linejoin="miter"/>
<path d="M788.54 373.72L795.74 373.72L792.14 366.52Z" fill="none" stroke="#0a0aff" stroke-width="1.0" stroke-linejoin="miter"/>
<path d="M789.39 374.81L796.59 374.81L792.99 367.61Z" fill="none" stroke="#0a0aff" stroke-width="1.0" stroke-linejoin="miter"/>
<path d="M790.24 375.07L797.44 375.07L793.84 367.87Z" fill="none" stroke="#0a0aff" stroke-width="1.0" stroke-linejoin="miter"/>
<path d="M791.09 374.17L798.29 374.17L794.69 366.97Z" fill="none" stroke="#0a0aff" stroke-width="1.0" stroke-linejoin="miter"/>
<path d="M791.94 373.41L799.14 373.41L795.54 366.21Z" fill="none" stroke="#0a0aff" stroke-width="1.0" stroke-linejoin="miter"/>
<path d="M792.79 373.85L799.99 373.85L796.39 366.65Z" fill="none" stroke="#0a0aff" stroke-width="1.0" stroke-linejoin="miter"/>
<path d="M793.64 375.57L800.84 375.57L797.24 368.37Z" fill="none" stroke="#0a0aff" stroke-width="1.0" stroke-linejoin="miter"/>
<path d="M794.49 372.26L801.69 372.26L798.09 365.06Z" fill="none" stroke="#0a0aff" stroke-width="1.0" stroke-linejoin="miter"/>
<path d="M795.34 374.59L802.54 374.59L798.94 367.39Z" fill="none" stroke="#0a0aff" stroke-width="1.0" stroke-linejoin="miter"/>
<path d="M796.19 373.95L803.39 373.95L799.79 366.75Z" fill="none" stroke="#0a0aff" stroke-width="1.0" stroke-linejoin="miter"/>
<text transform="translate(130.60,48.25) scale(0.93,1)" font-size="30.4" text-anchor="end" >8</text>
<text transform="translate(130.60,81.40) scale(0.93,1)" font-size="30.4" text-anchor="end" >2</text>
<path d="M104.40 61.30L106.86 61.30L106.86 80.85L104.40 80.85L104.40 63.81L100.19 65.81L100.19 63.41Z" fill="#000"/>
<text transform="translate(130.60,114.55) scale(0.93,1)" font-size="30.4" text-anchor="end" >6</text>
<path d="M104.40 94.45L106.86 94.45L106.86 114.00L104.40 114.00L104.40 96.96L100.19 98.96L100.19 96.56Z" fill="#000"/>
<text transform="translate(82.9,104.45) rotate(-90)" font-size="27.4"  textLength="73.2" lengthAdjust="spacingAndGlyphs">y(cm)</text>
<text transform="translate(176.40,136.30) scale(0.93,1)" font-size="30.4" text-anchor="middle" textLength="28.49" lengthAdjust="spacing" >-3</text>
<text transform="translate(259.40,136.30) scale(0.93,1)" font-size="30.4" text-anchor="middle" textLength="28.49" lengthAdjust="spacing" >-2</text>
<text transform="translate(329.15,136.30) scale(0.93,1)" font-size="30.4" text-anchor="start" >-</text>
<path d="M347.10 116.30L349.56 116.30L349.56 135.90L347.10 135.90L347.10 118.81L342.88 120.82L342.88 118.41Z" fill="#000"/>
<text transform="translate(409.60,136.30) scale(0.93,1)" font-size="30.4" text-anchor="middle" textLength="35.48" lengthAdjust="spacing" >28</text>
<text transform="translate(476.05,136.30) scale(0.93,1)" font-size="30.4" text-anchor="middle" textLength="35.48" lengthAdjust="spacing" >36</text>
<text transform="translate(542.50,136.30) scale(0.93,1)" font-size="30.4" text-anchor="middle" textLength="35.48" lengthAdjust="spacing" >44</text>
<text transform="translate(608.95,136.30) scale(0.93,1)" font-size="30.4" text-anchor="middle" textLength="35.48" lengthAdjust="spacing" >52</text>
<text transform="translate(675.40,136.30) scale(0.93,1)" font-size="30.4" text-anchor="middle" textLength="35.48" lengthAdjust="spacing" >60</text>
<text transform="translate(741.85,136.30) scale(0.93,1)" font-size="30.4" text-anchor="middle" textLength="35.48" lengthAdjust="spacing" >68</text>
<text transform="translate(130.60,203.50) scale(0.93,1)" font-size="30.4" text-anchor="end" >8</text>
<text transform="translate(130.60,236.67) scale(0.93,1)" font-size="30.4" text-anchor="end" >2</text>
<path d="M104.40 216.57L106.86 216.57L106.86 236.12L104.40 236.12L104.40 219.08L100.19 221.09L100.19 218.68Z" fill="#000"/>
<text transform="translate(130.60,269.85) scale(0.93,1)" font-size="30.4" text-anchor="end" >6</text>
<path d="M104.40 249.75L106.86 249.75L106.86 269.30L104.40 269.30L104.40 252.26L100.19 254.26L100.19 251.86Z" fill="#000"/>
<text transform="translate(82.9,259.72) rotate(-90)" font-size="27.4"  textLength="73.2" lengthAdjust="spacingAndGlyphs">y(cm)</text>
<text transform="translate(176.40,291.60) scale(0.93,1)" font-size="30.4" text-anchor="middle" textLength="28.49" lengthAdjust="spacing" >-3</text>
<text transform="translate(259.40,291.60) scale(0.93,1)" font-size="30.4" text-anchor="middle" textLength="28.49" lengthAdjust="spacing" >-2</text>
<text transform="translate(329.15,291.60) scale(0.93,1)" font-size="30.4" text-anchor="start" >-</text>
<path d="M347.10 271.60L349.56 271.60L349.56 291.20L347.10 291.20L347.10 274.11L342.88 276.12L342.88 273.71Z" fill="#000"/>
<text transform="translate(409.60,291.60) scale(0.93,1)" font-size="30.4" text-anchor="middle" textLength="35.48" lengthAdjust="spacing" >28</text>
<text transform="translate(476.05,291.60) scale(0.93,1)" font-size="30.4" text-anchor="middle" textLength="35.48" lengthAdjust="spacing" >36</text>
<text transform="translate(542.50,291.60) scale(0.93,1)" font-size="30.4" text-anchor="middle" textLength="35.48" lengthAdjust="spacing" >44</text>
<text transform="translate(608.95,291.60) scale(0.93,1)" font-size="30.4" text-anchor="middle" textLength="35.48" lengthAdjust="spacing" >52</text>
<text transform="translate(675.40,291.60) scale(0.93,1)" font-size="30.4" text-anchor="middle" textLength="35.48" lengthAdjust="spacing" >60</text>
<text transform="translate(741.85,291.60) scale(0.93,1)" font-size="30.4" text-anchor="middle" textLength="35.48" lengthAdjust="spacing" >68</text>
<text transform="translate(130.60,365.45) scale(0.93,1)" font-size="30.4" text-anchor="end" >8</text>
<text transform="translate(130.60,398.65) scale(0.93,1)" font-size="30.4" text-anchor="end" >2</text>
<path d="M104.40 378.55L106.86 378.55L106.86 398.10L104.40 398.10L104.40 381.06L100.19 383.06L100.19 380.66Z" fill="#000"/>
<text transform="translate(130.60,431.85) scale(0.93,1)" font-size="30.4" text-anchor="end" >6</text>
<path d="M104.40 411.75L106.86 411.75L106.86 431.30L104.40 431.30L104.40 414.26L100.19 416.26L100.19 413.86Z" fill="#000"/>
<text transform="translate(82.9,421.70) rotate(-90)" font-size="27.4"  textLength="73.2" lengthAdjust="spacingAndGlyphs">y(cm)</text>
<text transform="translate(159.40,453.60) scale(0.93,1)" font-size="30.4" text-anchor="middle" textLength="28.49" lengthAdjust="spacing" >-3</text>
<text transform="translate(242.40,453.60) scale(0.93,1)" font-size="30.4" text-anchor="middle" textLength="28.49" lengthAdjust="spacing" >-2</text>
<text transform="translate(312.15,453.60) scale(0.93,1)" font-size="30.4" text-anchor="start" >-</text>
<path d="M330.10 433.60L332.56 433.60L332.56 453.20L330.10 453.20L330.10 436.11L325.88 438.12L325.88 435.71Z" fill="#000"/>
<text transform="translate(450.10,453.60) scale(0.93,1)" font-size="30.4" text-anchor="middle" textLength="35.48" lengthAdjust="spacing" >28</text>
<text transform="translate(516.80,453.60) scale(0.93,1)" font-size="30.4" text-anchor="middle" textLength="35.48" lengthAdjust="spacing" >36</text>
<text transform="translate(583.50,453.60) scale(0.93,1)" font-size="30.4" text-anchor="middle" textLength="35.48" lengthAdjust="spacing" >44</text>
<text transform="translate(650.20,453.60) scale(0.93,1)" font-size="30.4" text-anchor="middle" textLength="35.48" lengthAdjust="spacing" >52</text>
<text transform="translate(716.90,453.60) scale(0.93,1)" font-size="30.4" text-anchor="middle" textLength="35.48" lengthAdjust="spacing" >60</text>
<text transform="translate(783.60,453.60) scale(0.93,1)" font-size="30.4" text-anchor="middle" textLength="35.48" lengthAdjust="spacing" >68</text>
<rect x="147.40" y="71.70" width="34.40" height="29.70" fill="#fff"/>
<text x="147.00" y="94.70" font-size="27.4" text-anchor="start"  textLength="35.199999999999996" lengthAdjust="spacingAndGlyphs" >(a)</text>
<rect x="375.00" y="71.70" width="36.00" height="29.70" fill="#fff"/>
<text x="374.60" y="94.70" font-size="27.4" text-anchor="start"  textLength="36.8" lengthAdjust="spacingAndGlyphs" >(b)</text>
<rect x="146.80" y="227.00" width="34.40" height="29.70" fill="#fff"/>
<text x="146.40" y="250.00" font-size="27.4" text-anchor="start"  textLength="35.199999999999996" lengthAdjust="spacingAndGlyphs" >(c)</text>
<rect x="375.00" y="227.00" width="36.00" height="29.70" fill="#fff"/>
<text x="374.60" y="250.00" font-size="27.4" text-anchor="start"  textLength="36.8" lengthAdjust="spacingAndGlyphs" >(d)</text>
<rect x="149.00" y="389.00" width="34.80" height="29.70" fill="#fff"/>
<text x="148.60" y="412.00" font-size="27.4" text-anchor="start"  textLength="35.6" lengthAdjust="spacingAndGlyphs" >(e)</text>
<rect x="414.00" y="389.00" width="30.20" height="29.70" fill="#fff"/>
<text x="413.60" y="412.00" font-size="27.4" text-anchor="start"  textLength="31.0" lengthAdjust="spacingAndGlyphs" >(f)</text>
<text x="182.30" y="171.00" font-size="27.3" text-anchor="start"  textLength="37.6" lengthAdjust="spacingAndGlyphs" >log</text>
<text transform="translate(231.50,179.60) scale(0.97,1)" font-size="21.6" text-anchor="start" >0</text>
<path d="M224.90 165.25L226.95 165.25L226.95 179.15L224.90 179.15L224.90 167.03L221.91 168.46L221.91 166.75Z" fill="#000"/>
<text x="244.00" y="171.00" font-size="28.7" text-anchor="start"  textLength="68.6" lengthAdjust="spacingAndGlyphs" >(A/F)</text>
<text x="543.50" y="176.40" font-size="27.4" text-anchor="start"  textLength="72.6" lengthAdjust="spacingAndGlyphs" >x(cm)</text>
<text x="181.30" y="326.30" font-size="27.3" text-anchor="start"  textLength="37.6" lengthAdjust="spacingAndGlyphs" >log</text>
<text transform="translate(230.50,334.90) scale(0.97,1)" font-size="21.6" text-anchor="start" >0</text>
<path d="M223.90 320.55L225.95 320.55L225.95 334.45L223.90 334.45L223.90 322.33L220.91 323.76L220.91 322.05Z" fill="#000"/>
<text x="243.00" y="326.30" font-size="28.7" text-anchor="start"  textLength="68.6" lengthAdjust="spacingAndGlyphs" >(A/F)</text>
<text x="543.50" y="331.70" font-size="27.4" text-anchor="start"  textLength="72.6" lengthAdjust="spacingAndGlyphs" >x(cm)</text>
<text x="182.80" y="488.30" font-size="27.3" text-anchor="start"  textLength="37.6" lengthAdjust="spacingAndGlyphs" >log</text>
<text transform="translate(232.00,496.90) scale(0.97,1)" font-size="21.6" text-anchor="start" >0</text>
<path d="M225.40 482.55L227.45 482.55L227.45 496.45L225.40 496.45L225.40 484.33L222.41 485.76L222.41 484.05Z" fill="#000"/>
<text x="244.50" y="488.30" font-size="28.7" text-anchor="start"  textLength="68.6" lengthAdjust="spacingAndGlyphs" >(A/F)</text>
<text x="548.60" y="493.70" font-size="27.4" text-anchor="start"  textLength="72.6" lengthAdjust="spacingAndGlyphs" >x(cm)</text>
</svg>
</body></html>
